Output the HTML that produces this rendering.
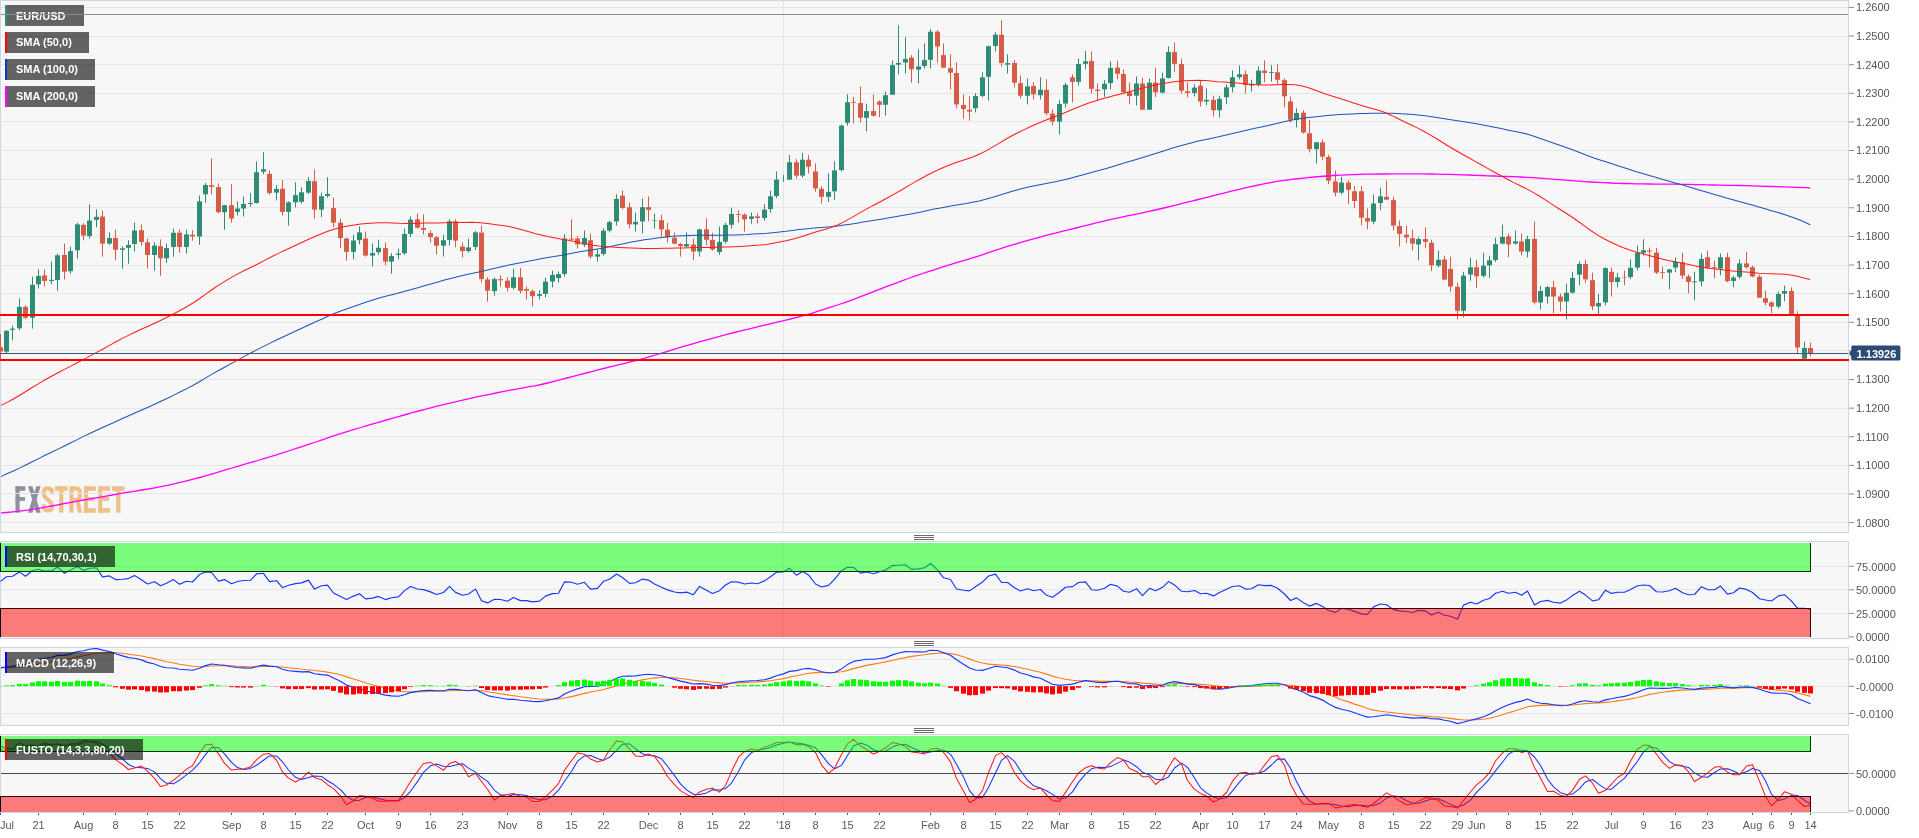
<!DOCTYPE html><html><head><meta charset="utf-8"><title>EUR/USD</title><style>html,body{margin:0;padding:0;background:#fff;overflow:hidden}svg{display:block;will-change:transform}svg text{font-family:"Liberation Sans",sans-serif}</style></head><body><svg width="1919" height="838" viewBox="0 0 1919 838" font-family="Liberation Sans, sans-serif">
<rect width="1919" height="838" fill="#fff"/>
<rect x="0.5" y="0.5" width="1848" height="532" fill="#f7f7f7" stroke="#cdd5e6" stroke-width="1"/>
<rect x="0.5" y="541.5" width="1848" height="97" fill="#f7f7f7" stroke="#cdd5e6" stroke-width="1"/>
<rect x="0.5" y="647.5" width="1848" height="78" fill="#f7f7f7" stroke="#cdd5e6" stroke-width="1"/>
<rect x="0.5" y="734.5" width="1848" height="78" fill="#f7f7f7" stroke="#cdd5e6" stroke-width="1"/>
<rect x="15.50" y="486.30" width="4.10" height="26.40" fill="#8e909c"/>
<rect x="15.50" y="486.30" width="9.80" height="4.50" fill="#8e909c"/>
<rect x="15.50" y="497.00" width="9.40" height="3.90" fill="#8e909c"/>
<polygon points="28,486.3 32.4,486.3 40.7,512.7 36.3,512.7" fill="#8e909c"/><polygon points="36.3,486.3 40.7,486.3 32.4,512.7 28,512.7" fill="#8e909c"/>
<path d="M52,494.6 L52,492.6 Q52,488.4 47.85,488.4 Q43.7,488.4 43.7,492.6 L43.7,493.4 Q43.7,496.4 47.85,499.6 Q52,502.8 52,505.8 L52,506.5 Q52,510.6 47.85,510.6 Q43.7,510.6 43.7,506.5 L43.7,504.3" fill="none" stroke="#eebf88" stroke-width="4.1"/>
<rect x="54.80" y="486.30" width="12.90" height="4.50" fill="#eebf88"/>
<rect x="59.10" y="486.30" width="4.20" height="26.40" fill="#eebf88"/>
<rect x="69.40" y="486.30" width="4.10" height="26.40" fill="#eebf88"/>
<path d="M72,488.45 L76.3,488.45 Q79.8,488.45 79.8,492 L79.8,496.4 Q79.8,499.9 76.3,499.9 L72,499.9" fill="none" stroke="#eebf88" stroke-width="4.1"/>
<polygon points="75.3,500.5 79.5,500.0 82.1,512.7 77.9,512.7" fill="#eebf88"/>
<rect x="83.90" y="486.30" width="4.10" height="26.40" fill="#eebf88"/>
<rect x="83.90" y="486.30" width="11.90" height="4.50" fill="#eebf88"/>
<rect x="83.90" y="497.00" width="10.70" height="3.90" fill="#eebf88"/>
<rect x="83.90" y="508.20" width="11.90" height="4.50" fill="#eebf88"/>
<rect x="98.20" y="486.30" width="4.10" height="26.40" fill="#eebf88"/>
<rect x="98.20" y="486.30" width="11.90" height="4.50" fill="#eebf88"/>
<rect x="98.20" y="497.00" width="10.70" height="3.90" fill="#eebf88"/>
<rect x="98.20" y="508.20" width="11.90" height="4.50" fill="#eebf88"/>
<rect x="112.00" y="486.30" width="12.60" height="4.50" fill="#eebf88"/>
<rect x="116.20" y="486.30" width="4.20" height="26.40" fill="#eebf88"/>
<g shape-rendering="crispEdges">
<rect x="1" y="7" width="1847" height="1" fill="#e5e5e5"/>
<rect x="1" y="36" width="1847" height="1" fill="#e5e5e5"/>
<rect x="1" y="64" width="1847" height="1" fill="#e5e5e5"/>
<rect x="1" y="93" width="1847" height="1" fill="#e5e5e5"/>
<rect x="1" y="121" width="1847" height="1" fill="#e5e5e5"/>
<rect x="1" y="150" width="1847" height="1" fill="#e5e5e5"/>
<rect x="1" y="179" width="1847" height="1" fill="#e5e5e5"/>
<rect x="1" y="207" width="1847" height="1" fill="#e5e5e5"/>
<rect x="1" y="236" width="1847" height="1" fill="#e5e5e5"/>
<rect x="1" y="265" width="1847" height="1" fill="#e5e5e5"/>
<rect x="1" y="293" width="1847" height="1" fill="#e5e5e5"/>
<rect x="1" y="322" width="1847" height="1" fill="#e5e5e5"/>
<rect x="1" y="350" width="1847" height="1" fill="#e5e5e5"/>
<rect x="1" y="379" width="1847" height="1" fill="#e5e5e5"/>
<rect x="1" y="408" width="1847" height="1" fill="#e5e5e5"/>
<rect x="1" y="436" width="1847" height="1" fill="#e5e5e5"/>
<rect x="1" y="465" width="1847" height="1" fill="#e5e5e5"/>
<rect x="1" y="493" width="1847" height="1" fill="#e5e5e5"/>
<rect x="1" y="522" width="1847" height="1" fill="#e5e5e5"/>
</g>
<g shape-rendering="crispEdges">
<rect x="783" y="1" width="1" height="531" fill="#e5e5e5"/>
<rect x="783" y="542" width="1" height="96" fill="#e5e5e5"/>
<rect x="783" y="648" width="1" height="77" fill="#e5e5e5"/>
<rect x="783" y="735" width="1" height="77" fill="#e5e5e5"/>
</g>
<rect x="1849" y="6.95" width="5" height="1" fill="#8c8c8c"/>
<text x="1856" y="11" font-size="11" fill="#555">1.2600</text>
<rect x="1849" y="35.57" width="5" height="1" fill="#8c8c8c"/>
<text x="1856" y="40" font-size="11" fill="#555">1.2500</text>
<rect x="1849" y="64.19" width="5" height="1" fill="#8c8c8c"/>
<text x="1856" y="69" font-size="11" fill="#555">1.2400</text>
<rect x="1849" y="92.81" width="5" height="1" fill="#8c8c8c"/>
<text x="1856" y="97" font-size="11" fill="#555">1.2300</text>
<rect x="1849" y="121.43" width="5" height="1" fill="#8c8c8c"/>
<text x="1856" y="126" font-size="11" fill="#555">1.2200</text>
<rect x="1849" y="150.05" width="5" height="1" fill="#8c8c8c"/>
<text x="1856" y="154" font-size="11" fill="#555">1.2100</text>
<rect x="1849" y="178.67" width="5" height="1" fill="#8c8c8c"/>
<text x="1856" y="183" font-size="11" fill="#555">1.2000</text>
<rect x="1849" y="207.29" width="5" height="1" fill="#8c8c8c"/>
<text x="1856" y="212" font-size="11" fill="#555">1.1900</text>
<rect x="1849" y="235.91" width="5" height="1" fill="#8c8c8c"/>
<text x="1856" y="240" font-size="11" fill="#555">1.1800</text>
<rect x="1849" y="264.53" width="5" height="1" fill="#8c8c8c"/>
<text x="1856" y="269" font-size="11" fill="#555">1.1700</text>
<rect x="1849" y="293.15" width="5" height="1" fill="#8c8c8c"/>
<text x="1856" y="298" font-size="11" fill="#555">1.1600</text>
<rect x="1849" y="321.77" width="5" height="1" fill="#8c8c8c"/>
<text x="1856" y="326" font-size="11" fill="#555">1.1500</text>
<rect x="1849" y="350.39" width="5" height="1" fill="#8c8c8c"/>
<text x="1856" y="355" font-size="11" fill="#555">1.1400</text>
<rect x="1849" y="379.01" width="5" height="1" fill="#8c8c8c"/>
<text x="1856" y="383" font-size="11" fill="#555">1.1300</text>
<rect x="1849" y="407.63" width="5" height="1" fill="#8c8c8c"/>
<text x="1856" y="412" font-size="11" fill="#555">1.1200</text>
<rect x="1849" y="436.25" width="5" height="1" fill="#8c8c8c"/>
<text x="1856" y="441" font-size="11" fill="#555">1.1100</text>
<rect x="1849" y="464.87" width="5" height="1" fill="#8c8c8c"/>
<text x="1856" y="469" font-size="11" fill="#555">1.1000</text>
<rect x="1849" y="493.49" width="5" height="1" fill="#8c8c8c"/>
<text x="1856" y="498" font-size="11" fill="#555">1.0900</text>
<rect x="1849" y="522.11" width="5" height="1" fill="#8c8c8c"/>
<text x="1856" y="527" font-size="11" fill="#555">1.0800</text>
<rect x="0" y="333.94" width="1" height="26.57" fill="#d65c47"/>
<rect x="-2" y="347.15" width="5" height="4.34" fill="#d65c47"/>
<rect x="6" y="330.27" width="1" height="23.06" fill="#2e8b74"/>
<rect x="4" y="330.77" width="5" height="20.89" fill="#2e8b74"/>
<rect x="12" y="325.59" width="1" height="14.71" fill="#2e8b74"/>
<rect x="10" y="328.60" width="5" height="1.17" fill="#2e8b74"/>
<rect x="19" y="298.52" width="1" height="31.75" fill="#2e8b74"/>
<rect x="17" y="306.87" width="5" height="21.39" fill="#2e8b74"/>
<rect x="25" y="305.20" width="1" height="14.20" fill="#d65c47"/>
<rect x="23" y="306.87" width="5" height="10.86" fill="#d65c47"/>
<rect x="32" y="276.79" width="1" height="51.80" fill="#2e8b74"/>
<rect x="30" y="284.81" width="5" height="32.92" fill="#2e8b74"/>
<rect x="38" y="269.27" width="1" height="19.22" fill="#2e8b74"/>
<rect x="36" y="275.96" width="5" height="8.36" fill="#2e8b74"/>
<rect x="44" y="269.61" width="1" height="16.88" fill="#d65c47"/>
<rect x="42" y="275.45" width="5" height="5.51" fill="#d65c47"/>
<rect x="51" y="261.42" width="1" height="22.89" fill="#2e8b74"/>
<rect x="49" y="279.80" width="5" height="1.17" fill="#2e8b74"/>
<rect x="57" y="253.64" width="1" height="37.10" fill="#2e8b74"/>
<rect x="55" y="255.31" width="5" height="24.73" fill="#2e8b74"/>
<rect x="64" y="243.61" width="1" height="35.93" fill="#d65c47"/>
<rect x="62" y="254.97" width="5" height="16.71" fill="#d65c47"/>
<rect x="70" y="246.62" width="1" height="27.07" fill="#2e8b74"/>
<rect x="68" y="251.13" width="5" height="20.05" fill="#2e8b74"/>
<rect x="77" y="222.72" width="1" height="35.93" fill="#2e8b74"/>
<rect x="75" y="224.39" width="5" height="25.90" fill="#2e8b74"/>
<rect x="83" y="223.22" width="1" height="17.05" fill="#d65c47"/>
<rect x="81" y="224.89" width="5" height="10.70" fill="#d65c47"/>
<rect x="89" y="204.34" width="1" height="34.26" fill="#2e8b74"/>
<rect x="87" y="220.55" width="5" height="15.54" fill="#2e8b74"/>
<rect x="96" y="209.35" width="1" height="17.88" fill="#2e8b74"/>
<rect x="94" y="216.87" width="5" height="3.01" fill="#2e8b74"/>
<rect x="102" y="210.52" width="1" height="46.12" fill="#d65c47"/>
<rect x="100" y="216.54" width="5" height="27.07" fill="#d65c47"/>
<rect x="109" y="232.41" width="1" height="12.53" fill="#2e8b74"/>
<rect x="107" y="238.09" width="5" height="5.51" fill="#2e8b74"/>
<rect x="115" y="229.74" width="1" height="30.58" fill="#d65c47"/>
<rect x="113" y="238.09" width="5" height="11.70" fill="#d65c47"/>
<rect x="122" y="246.45" width="1" height="22.23" fill="#2e8b74"/>
<rect x="120" y="248.29" width="5" height="1.50" fill="#2e8b74"/>
<rect x="128" y="240.27" width="1" height="23.40" fill="#2e8b74"/>
<rect x="126" y="244.95" width="5" height="2.84" fill="#2e8b74"/>
<rect x="134" y="222.39" width="1" height="29.08" fill="#2e8b74"/>
<rect x="132" y="230.57" width="5" height="13.37" fill="#2e8b74"/>
<rect x="141" y="224.39" width="1" height="21.22" fill="#d65c47"/>
<rect x="139" y="230.24" width="5" height="11.70" fill="#d65c47"/>
<rect x="147" y="238.60" width="1" height="30.08" fill="#d65c47"/>
<rect x="145" y="242.27" width="5" height="12.70" fill="#d65c47"/>
<rect x="154" y="242.27" width="1" height="28.41" fill="#2e8b74"/>
<rect x="152" y="245.61" width="5" height="9.36" fill="#2e8b74"/>
<rect x="160" y="239.43" width="1" height="36.26" fill="#d65c47"/>
<rect x="158" y="246.12" width="5" height="12.20" fill="#d65c47"/>
<rect x="166" y="243.61" width="1" height="19.22" fill="#2e8b74"/>
<rect x="164" y="248.12" width="5" height="10.19" fill="#2e8b74"/>
<rect x="173" y="228.57" width="1" height="28.07" fill="#2e8b74"/>
<rect x="171" y="232.75" width="5" height="14.20" fill="#2e8b74"/>
<rect x="179" y="229.41" width="1" height="23.40" fill="#d65c47"/>
<rect x="177" y="232.75" width="5" height="14.20" fill="#d65c47"/>
<rect x="186" y="229.74" width="1" height="23.90" fill="#2e8b74"/>
<rect x="184" y="234.42" width="5" height="12.53" fill="#2e8b74"/>
<rect x="192" y="230.24" width="1" height="10.36" fill="#d65c47"/>
<rect x="190" y="234.75" width="5" height="1.67" fill="#d65c47"/>
<rect x="199" y="195.48" width="1" height="49.30" fill="#2e8b74"/>
<rect x="197" y="201.33" width="5" height="35.26" fill="#2e8b74"/>
<rect x="205" y="183.11" width="1" height="19.55" fill="#2e8b74"/>
<rect x="203" y="185.12" width="5" height="9.19" fill="#2e8b74"/>
<rect x="211" y="158.38" width="1" height="35.93" fill="#d65c47"/>
<rect x="209" y="185.12" width="5" height="1.67" fill="#d65c47"/>
<rect x="218" y="183.45" width="1" height="30.08" fill="#d65c47"/>
<rect x="216" y="187.13" width="5" height="25.07" fill="#d65c47"/>
<rect x="224" y="205.17" width="1" height="24.57" fill="#2e8b74"/>
<rect x="222" y="205.17" width="5" height="7.02" fill="#2e8b74"/>
<rect x="231" y="184.28" width="1" height="38.44" fill="#d65c47"/>
<rect x="229" y="205.17" width="5" height="13.37" fill="#d65c47"/>
<rect x="237" y="201.33" width="1" height="14.20" fill="#2e8b74"/>
<rect x="235" y="208.52" width="5" height="3.34" fill="#2e8b74"/>
<rect x="243" y="196.48" width="1" height="20.05" fill="#2e8b74"/>
<rect x="241" y="204.00" width="5" height="4.51" fill="#2e8b74"/>
<rect x="250" y="193.14" width="1" height="13.70" fill="#2e8b74"/>
<rect x="248" y="203.00" width="5" height="1.00" fill="#2e8b74"/>
<rect x="256" y="161.39" width="1" height="42.11" fill="#2e8b74"/>
<rect x="254" y="172.25" width="5" height="30.75" fill="#2e8b74"/>
<rect x="263" y="152.20" width="1" height="22.06" fill="#2e8b74"/>
<rect x="261" y="169.24" width="5" height="2.51" fill="#2e8b74"/>
<rect x="269" y="170.41" width="1" height="24.23" fill="#d65c47"/>
<rect x="267" y="173.92" width="5" height="19.05" fill="#d65c47"/>
<rect x="276" y="185.12" width="1" height="15.37" fill="#2e8b74"/>
<rect x="274" y="188.96" width="5" height="3.68" fill="#2e8b74"/>
<rect x="282" y="180.11" width="1" height="35.43" fill="#d65c47"/>
<rect x="280" y="188.80" width="5" height="23.06" fill="#d65c47"/>
<rect x="288" y="201.33" width="1" height="24.23" fill="#2e8b74"/>
<rect x="286" y="202.33" width="5" height="9.53" fill="#2e8b74"/>
<rect x="295" y="182.28" width="1" height="25.07" fill="#2e8b74"/>
<rect x="293" y="195.15" width="5" height="7.19" fill="#2e8b74"/>
<rect x="301" y="187.29" width="1" height="16.21" fill="#2e8b74"/>
<rect x="299" y="192.31" width="5" height="9.53" fill="#2e8b74"/>
<rect x="308" y="177.10" width="1" height="16.71" fill="#2e8b74"/>
<rect x="306" y="180.94" width="5" height="11.70" fill="#2e8b74"/>
<rect x="314" y="169.68" width="1" height="48.80" fill="#d65c47"/>
<rect x="312" y="181.21" width="5" height="28.41" fill="#d65c47"/>
<rect x="321" y="192.57" width="1" height="24.57" fill="#2e8b74"/>
<rect x="319" y="196.25" width="5" height="13.37" fill="#2e8b74"/>
<rect x="327" y="177.20" width="1" height="20.39" fill="#2e8b74"/>
<rect x="325" y="193.91" width="5" height="2.01" fill="#2e8b74"/>
<rect x="333" y="197.59" width="1" height="29.58" fill="#d65c47"/>
<rect x="331" y="208.11" width="5" height="14.54" fill="#d65c47"/>
<rect x="340" y="218.48" width="1" height="29.75" fill="#d65c47"/>
<rect x="338" y="222.65" width="5" height="15.37" fill="#d65c47"/>
<rect x="346" y="237.69" width="1" height="22.89" fill="#d65c47"/>
<rect x="344" y="238.53" width="5" height="13.37" fill="#d65c47"/>
<rect x="353" y="234.85" width="1" height="24.57" fill="#2e8b74"/>
<rect x="351" y="240.53" width="5" height="11.36" fill="#2e8b74"/>
<rect x="359" y="226.50" width="1" height="17.88" fill="#2e8b74"/>
<rect x="357" y="232.35" width="5" height="7.85" fill="#2e8b74"/>
<rect x="365" y="231.51" width="1" height="25.07" fill="#d65c47"/>
<rect x="363" y="238.53" width="5" height="17.05" fill="#d65c47"/>
<rect x="372" y="243.54" width="1" height="22.89" fill="#2e8b74"/>
<rect x="370" y="253.07" width="5" height="2.51" fill="#2e8b74"/>
<rect x="378" y="239.70" width="1" height="15.04" fill="#2e8b74"/>
<rect x="376" y="247.72" width="5" height="4.51" fill="#2e8b74"/>
<rect x="385" y="242.37" width="1" height="22.89" fill="#d65c47"/>
<rect x="383" y="248.05" width="5" height="13.54" fill="#d65c47"/>
<rect x="391" y="253.24" width="1" height="20.39" fill="#2e8b74"/>
<rect x="389" y="256.08" width="5" height="5.51" fill="#2e8b74"/>
<rect x="398" y="248.56" width="1" height="10.86" fill="#2e8b74"/>
<rect x="396" y="253.57" width="5" height="1.34" fill="#2e8b74"/>
<rect x="404" y="228.50" width="1" height="26.24" fill="#2e8b74"/>
<rect x="402" y="234.02" width="5" height="19.22" fill="#2e8b74"/>
<rect x="410" y="216.30" width="1" height="20.89" fill="#2e8b74"/>
<rect x="408" y="219.65" width="5" height="14.20" fill="#2e8b74"/>
<rect x="417" y="213.46" width="1" height="15.04" fill="#d65c47"/>
<rect x="415" y="219.31" width="5" height="8.36" fill="#d65c47"/>
<rect x="423" y="214.30" width="1" height="20.05" fill="#d65c47"/>
<rect x="421" y="228.00" width="5" height="1.84" fill="#d65c47"/>
<rect x="430" y="230.17" width="1" height="12.53" fill="#d65c47"/>
<rect x="428" y="233.01" width="5" height="4.18" fill="#d65c47"/>
<rect x="436" y="236.02" width="1" height="18.38" fill="#d65c47"/>
<rect x="434" y="237.19" width="5" height="8.52" fill="#d65c47"/>
<rect x="443" y="234.69" width="1" height="21.89" fill="#2e8b74"/>
<rect x="441" y="240.20" width="5" height="5.51" fill="#2e8b74"/>
<rect x="449" y="219.31" width="1" height="26.24" fill="#2e8b74"/>
<rect x="447" y="221.32" width="5" height="18.55" fill="#2e8b74"/>
<rect x="455" y="219.31" width="1" height="28.07" fill="#d65c47"/>
<rect x="453" y="221.32" width="5" height="19.22" fill="#d65c47"/>
<rect x="462" y="242.37" width="1" height="15.04" fill="#d65c47"/>
<rect x="460" y="246.55" width="5" height="4.51" fill="#d65c47"/>
<rect x="468" y="238.53" width="1" height="14.20" fill="#2e8b74"/>
<rect x="466" y="247.39" width="5" height="3.68" fill="#2e8b74"/>
<rect x="475" y="231.01" width="1" height="19.22" fill="#2e8b74"/>
<rect x="473" y="232.35" width="5" height="14.54" fill="#2e8b74"/>
<rect x="481" y="225.66" width="1" height="56.82" fill="#d65c47"/>
<rect x="479" y="232.68" width="5" height="46.29" fill="#d65c47"/>
<rect x="487" y="277.30" width="1" height="24.40" fill="#d65c47"/>
<rect x="485" y="279.47" width="5" height="11.20" fill="#d65c47"/>
<rect x="494" y="277.47" width="1" height="18.22" fill="#2e8b74"/>
<rect x="492" y="279.14" width="5" height="12.03" fill="#2e8b74"/>
<rect x="500" y="275.29" width="1" height="11.20" fill="#d65c47"/>
<rect x="498" y="279.14" width="5" height="1.17" fill="#d65c47"/>
<rect x="507" y="277.30" width="1" height="14.20" fill="#d65c47"/>
<rect x="505" y="280.64" width="5" height="7.19" fill="#d65c47"/>
<rect x="513" y="268.61" width="1" height="20.89" fill="#2e8b74"/>
<rect x="511" y="277.30" width="5" height="10.53" fill="#2e8b74"/>
<rect x="520" y="267.77" width="1" height="25.57" fill="#d65c47"/>
<rect x="518" y="277.30" width="5" height="13.54" fill="#d65c47"/>
<rect x="526" y="286.49" width="1" height="13.03" fill="#d65c47"/>
<rect x="524" y="289.00" width="5" height="1.67" fill="#d65c47"/>
<rect x="532" y="289.50" width="1" height="16.71" fill="#d65c47"/>
<rect x="530" y="291.17" width="5" height="5.01" fill="#d65c47"/>
<rect x="539" y="290.33" width="1" height="9.19" fill="#2e8b74"/>
<rect x="537" y="294.18" width="5" height="1.67" fill="#2e8b74"/>
<rect x="545" y="277.80" width="1" height="19.72" fill="#2e8b74"/>
<rect x="543" y="281.64" width="5" height="12.37" fill="#2e8b74"/>
<rect x="552" y="270.61" width="1" height="16.88" fill="#2e8b74"/>
<rect x="550" y="274.96" width="5" height="6.52" fill="#2e8b74"/>
<rect x="558" y="271.45" width="1" height="11.03" fill="#2e8b74"/>
<rect x="556" y="274.12" width="5" height="4.01" fill="#2e8b74"/>
<rect x="564" y="234.35" width="1" height="42.28" fill="#2e8b74"/>
<rect x="562" y="238.53" width="5" height="35.43" fill="#2e8b74"/>
<rect x="571" y="219.31" width="1" height="20.89" fill="#d65c47"/>
<rect x="569" y="238.53" width="5" height="1.00" fill="#d65c47"/>
<rect x="577" y="236.02" width="1" height="12.53" fill="#d65c47"/>
<rect x="575" y="238.53" width="5" height="5.85" fill="#d65c47"/>
<rect x="584" y="230.51" width="1" height="16.38" fill="#2e8b74"/>
<rect x="582" y="238.03" width="5" height="6.68" fill="#2e8b74"/>
<rect x="590" y="233.52" width="1" height="25.07" fill="#d65c47"/>
<rect x="588" y="240.20" width="5" height="16.38" fill="#d65c47"/>
<rect x="597" y="249.39" width="1" height="12.20" fill="#2e8b74"/>
<rect x="595" y="254.41" width="5" height="2.17" fill="#2e8b74"/>
<rect x="603" y="228.17" width="1" height="27.57" fill="#2e8b74"/>
<rect x="601" y="230.68" width="5" height="23.23" fill="#2e8b74"/>
<rect x="609" y="220.65" width="1" height="11.70" fill="#2e8b74"/>
<rect x="607" y="222.15" width="5" height="8.36" fill="#2e8b74"/>
<rect x="616" y="194.24" width="1" height="31.25" fill="#2e8b74"/>
<rect x="614" y="198.92" width="5" height="22.56" fill="#2e8b74"/>
<rect x="622" y="190.40" width="1" height="18.88" fill="#d65c47"/>
<rect x="620" y="195.58" width="5" height="12.37" fill="#d65c47"/>
<rect x="629" y="202.60" width="1" height="25.90" fill="#d65c47"/>
<rect x="627" y="207.28" width="5" height="17.05" fill="#d65c47"/>
<rect x="635" y="212.71" width="1" height="18.88" fill="#2e8b74"/>
<rect x="633" y="221.90" width="5" height="2.51" fill="#2e8b74"/>
<rect x="642" y="198.50" width="1" height="35.09" fill="#2e8b74"/>
<rect x="640" y="207.19" width="5" height="14.20" fill="#2e8b74"/>
<rect x="648" y="196.50" width="1" height="24.90" fill="#d65c47"/>
<rect x="646" y="207.19" width="5" height="2.67" fill="#d65c47"/>
<rect x="654" y="213.54" width="1" height="15.04" fill="#2e8b74"/>
<rect x="652" y="220.23" width="5" height="0.50" fill="#2e8b74"/>
<rect x="661" y="214.71" width="1" height="21.72" fill="#d65c47"/>
<rect x="659" y="220.23" width="5" height="9.19" fill="#d65c47"/>
<rect x="667" y="222.73" width="1" height="19.72" fill="#d65c47"/>
<rect x="665" y="229.75" width="5" height="7.52" fill="#d65c47"/>
<rect x="674" y="232.43" width="1" height="12.03" fill="#d65c47"/>
<rect x="672" y="237.77" width="5" height="5.85" fill="#d65c47"/>
<rect x="680" y="243.29" width="1" height="13.37" fill="#d65c47"/>
<rect x="678" y="243.96" width="5" height="2.17" fill="#d65c47"/>
<rect x="686" y="232.43" width="1" height="14.87" fill="#2e8b74"/>
<rect x="684" y="244.12" width="5" height="2.34" fill="#2e8b74"/>
<rect x="693" y="238.61" width="1" height="21.72" fill="#d65c47"/>
<rect x="691" y="244.46" width="5" height="7.02" fill="#d65c47"/>
<rect x="699" y="228.58" width="1" height="27.91" fill="#2e8b74"/>
<rect x="697" y="229.42" width="5" height="22.06" fill="#2e8b74"/>
<rect x="706" y="218.22" width="1" height="27.07" fill="#d65c47"/>
<rect x="704" y="229.42" width="5" height="10.36" fill="#d65c47"/>
<rect x="712" y="232.76" width="1" height="17.88" fill="#d65c47"/>
<rect x="710" y="239.95" width="5" height="9.53" fill="#d65c47"/>
<rect x="719" y="226.58" width="1" height="28.24" fill="#2e8b74"/>
<rect x="717" y="241.95" width="5" height="10.03" fill="#2e8b74"/>
<rect x="725" y="222.73" width="1" height="20.89" fill="#2e8b74"/>
<rect x="723" y="224.91" width="5" height="16.71" fill="#2e8b74"/>
<rect x="731" y="207.69" width="1" height="20.89" fill="#2e8b74"/>
<rect x="729" y="214.04" width="5" height="10.70" fill="#2e8b74"/>
<rect x="738" y="210.53" width="1" height="12.20" fill="#d65c47"/>
<rect x="736" y="214.04" width="5" height="0.84" fill="#d65c47"/>
<rect x="744" y="213.21" width="1" height="18.38" fill="#d65c47"/>
<rect x="742" y="214.71" width="5" height="4.68" fill="#d65c47"/>
<rect x="751" y="212.37" width="1" height="11.20" fill="#2e8b74"/>
<rect x="749" y="216.38" width="5" height="2.51" fill="#2e8b74"/>
<rect x="757" y="213.21" width="1" height="10.36" fill="#d65c47"/>
<rect x="755" y="216.38" width="5" height="1.67" fill="#d65c47"/>
<rect x="764" y="204.35" width="1" height="16.38" fill="#2e8b74"/>
<rect x="762" y="209.70" width="5" height="8.36" fill="#2e8b74"/>
<rect x="770" y="190.65" width="1" height="22.06" fill="#2e8b74"/>
<rect x="768" y="196.33" width="5" height="12.70" fill="#2e8b74"/>
<rect x="776" y="171.43" width="1" height="26.57" fill="#2e8b74"/>
<rect x="774" y="179.62" width="5" height="16.38" fill="#2e8b74"/>
<rect x="783" y="174.94" width="1" height="6.85" fill="#2e8b74"/>
<rect x="789" y="155.05" width="1" height="24.73" fill="#2e8b74"/>
<rect x="787" y="162.24" width="5" height="17.38" fill="#2e8b74"/>
<rect x="796" y="159.23" width="1" height="19.22" fill="#d65c47"/>
<rect x="794" y="162.24" width="5" height="13.37" fill="#d65c47"/>
<rect x="802" y="153.05" width="1" height="24.57" fill="#2e8b74"/>
<rect x="800" y="159.73" width="5" height="15.88" fill="#2e8b74"/>
<rect x="808" y="155.05" width="1" height="18.38" fill="#d65c47"/>
<rect x="806" y="159.73" width="5" height="7.02" fill="#d65c47"/>
<rect x="815" y="163.41" width="1" height="28.41" fill="#d65c47"/>
<rect x="813" y="171.43" width="5" height="17.05" fill="#d65c47"/>
<rect x="821" y="186.30" width="1" height="17.21" fill="#d65c47"/>
<rect x="819" y="188.81" width="5" height="8.02" fill="#d65c47"/>
<rect x="828" y="173.44" width="1" height="28.41" fill="#2e8b74"/>
<rect x="826" y="191.82" width="5" height="5.01" fill="#2e8b74"/>
<rect x="834" y="161.40" width="1" height="38.27" fill="#2e8b74"/>
<rect x="832" y="170.43" width="5" height="20.89" fill="#2e8b74"/>
<rect x="841" y="124.46" width="1" height="46.96" fill="#2e8b74"/>
<rect x="839" y="125.63" width="5" height="44.45" fill="#2e8b74"/>
<rect x="847" y="94.38" width="1" height="31.25" fill="#2e8b74"/>
<rect x="845" y="102.23" width="5" height="20.55" fill="#2e8b74"/>
<rect x="853" y="96.89" width="1" height="26.74" fill="#d65c47"/>
<rect x="851" y="101.90" width="5" height="0.84" fill="#d65c47"/>
<rect x="860" y="86.52" width="1" height="35.93" fill="#d65c47"/>
<rect x="858" y="103.07" width="5" height="14.71" fill="#d65c47"/>
<rect x="866" y="103.57" width="1" height="27.91" fill="#2e8b74"/>
<rect x="864" y="111.09" width="5" height="6.68" fill="#2e8b74"/>
<rect x="873" y="94.38" width="1" height="22.23" fill="#d65c47"/>
<rect x="871" y="111.09" width="5" height="4.68" fill="#d65c47"/>
<rect x="879" y="100.23" width="1" height="17.05" fill="#d65c47"/>
<rect x="877" y="101.56" width="5" height="3.18" fill="#d65c47"/>
<rect x="885" y="91.54" width="1" height="24.06" fill="#2e8b74"/>
<rect x="883" y="95.21" width="5" height="9.53" fill="#2e8b74"/>
<rect x="892" y="60.45" width="1" height="34.43" fill="#2e8b74"/>
<rect x="890" y="65.13" width="5" height="29.58" fill="#2e8b74"/>
<rect x="898" y="25.36" width="1" height="48.96" fill="#2e8b74"/>
<rect x="896" y="62.96" width="5" height="1.67" fill="#2e8b74"/>
<rect x="905" y="37.23" width="1" height="36.26" fill="#2e8b74"/>
<rect x="903" y="58.95" width="5" height="3.68" fill="#2e8b74"/>
<rect x="911" y="55.11" width="1" height="27.57" fill="#d65c47"/>
<rect x="909" y="57.61" width="5" height="11.70" fill="#d65c47"/>
<rect x="918" y="49.26" width="1" height="34.26" fill="#2e8b74"/>
<rect x="916" y="66.47" width="5" height="3.18" fill="#2e8b74"/>
<rect x="924" y="43.41" width="1" height="25.07" fill="#2e8b74"/>
<rect x="922" y="60.12" width="5" height="5.85" fill="#2e8b74"/>
<rect x="930" y="29.20" width="1" height="39.27" fill="#2e8b74"/>
<rect x="928" y="31.71" width="5" height="28.07" fill="#2e8b74"/>
<rect x="937" y="30.04" width="1" height="32.59" fill="#d65c47"/>
<rect x="935" y="31.71" width="5" height="14.71" fill="#d65c47"/>
<rect x="943" y="43.41" width="1" height="24.73" fill="#d65c47"/>
<rect x="941" y="55.11" width="5" height="12.53" fill="#d65c47"/>
<rect x="950" y="54.27" width="1" height="35.09" fill="#d65c47"/>
<rect x="948" y="68.14" width="5" height="4.51" fill="#d65c47"/>
<rect x="956" y="62.29" width="1" height="45.96" fill="#d65c47"/>
<rect x="954" y="72.99" width="5" height="31.42" fill="#d65c47"/>
<rect x="963" y="94.38" width="1" height="24.23" fill="#d65c47"/>
<rect x="961" y="104.91" width="5" height="4.18" fill="#d65c47"/>
<rect x="969" y="96.38" width="1" height="24.23" fill="#d65c47"/>
<rect x="967" y="109.75" width="5" height="1.84" fill="#d65c47"/>
<rect x="975" y="93.21" width="1" height="19.22" fill="#2e8b74"/>
<rect x="973" y="96.05" width="5" height="12.20" fill="#2e8b74"/>
<rect x="982" y="72.32" width="1" height="25.07" fill="#2e8b74"/>
<rect x="980" y="77.33" width="5" height="18.72" fill="#2e8b74"/>
<rect x="988" y="45.58" width="1" height="54.98" fill="#2e8b74"/>
<rect x="986" y="46.25" width="5" height="30.58" fill="#2e8b74"/>
<rect x="995" y="32.21" width="1" height="19.22" fill="#2e8b74"/>
<rect x="993" y="34.72" width="5" height="11.20" fill="#2e8b74"/>
<rect x="1001" y="20.35" width="1" height="46.12" fill="#d65c47"/>
<rect x="999" y="34.72" width="5" height="28.24" fill="#d65c47"/>
<rect x="1007" y="54.27" width="1" height="19.22" fill="#2e8b74"/>
<rect x="1005" y="63.13" width="5" height="1.50" fill="#2e8b74"/>
<rect x="1014" y="60.12" width="1" height="27.24" fill="#d65c47"/>
<rect x="1012" y="62.96" width="5" height="19.72" fill="#d65c47"/>
<rect x="1020" y="75.49" width="1" height="23.06" fill="#d65c47"/>
<rect x="1018" y="83.18" width="5" height="12.53" fill="#d65c47"/>
<rect x="1027" y="78.50" width="1" height="25.90" fill="#2e8b74"/>
<rect x="1025" y="86.36" width="5" height="9.36" fill="#2e8b74"/>
<rect x="1033" y="82.18" width="1" height="17.21" fill="#d65c47"/>
<rect x="1031" y="86.02" width="5" height="8.36" fill="#d65c47"/>
<rect x="1040" y="77.33" width="1" height="22.06" fill="#2e8b74"/>
<rect x="1038" y="89.70" width="5" height="5.51" fill="#2e8b74"/>
<rect x="1046" y="79.34" width="1" height="35.93" fill="#d65c47"/>
<rect x="1044" y="89.87" width="5" height="23.40" fill="#d65c47"/>
<rect x="1052" y="109.42" width="1" height="16.21" fill="#d65c47"/>
<rect x="1050" y="113.60" width="5" height="8.02" fill="#d65c47"/>
<rect x="1059" y="100.23" width="1" height="34.26" fill="#2e8b74"/>
<rect x="1057" y="104.07" width="5" height="17.55" fill="#2e8b74"/>
<rect x="1065" y="82.68" width="1" height="24.73" fill="#2e8b74"/>
<rect x="1063" y="84.85" width="5" height="18.72" fill="#2e8b74"/>
<rect x="1072" y="74.32" width="1" height="27.91" fill="#d65c47"/>
<rect x="1070" y="77.33" width="5" height="4.51" fill="#d65c47"/>
<rect x="1078" y="58.45" width="1" height="27.07" fill="#2e8b74"/>
<rect x="1076" y="63.96" width="5" height="17.88" fill="#2e8b74"/>
<rect x="1085" y="50.93" width="1" height="18.38" fill="#2e8b74"/>
<rect x="1083" y="61.29" width="5" height="2.51" fill="#2e8b74"/>
<rect x="1091" y="51.39" width="1" height="42.11" fill="#d65c47"/>
<rect x="1089" y="60.92" width="5" height="27.91" fill="#d65c47"/>
<rect x="1097" y="83.48" width="1" height="16.71" fill="#d65c47"/>
<rect x="1095" y="89.66" width="5" height="1.34" fill="#d65c47"/>
<rect x="1104" y="80.13" width="1" height="16.71" fill="#2e8b74"/>
<rect x="1102" y="83.81" width="5" height="5.51" fill="#2e8b74"/>
<rect x="1110" y="61.42" width="1" height="27.91" fill="#2e8b74"/>
<rect x="1108" y="67.93" width="5" height="15.21" fill="#2e8b74"/>
<rect x="1117" y="60.58" width="1" height="18.72" fill="#d65c47"/>
<rect x="1115" y="67.60" width="5" height="6.18" fill="#d65c47"/>
<rect x="1123" y="69.61" width="1" height="23.90" fill="#d65c47"/>
<rect x="1121" y="73.95" width="5" height="18.22" fill="#d65c47"/>
<rect x="1129" y="82.64" width="1" height="21.72" fill="#d65c47"/>
<rect x="1127" y="92.17" width="5" height="3.84" fill="#d65c47"/>
<rect x="1136" y="76.46" width="1" height="29.08" fill="#2e8b74"/>
<rect x="1134" y="83.48" width="5" height="12.20" fill="#2e8b74"/>
<rect x="1142" y="77.63" width="1" height="32.09" fill="#d65c47"/>
<rect x="1140" y="83.48" width="5" height="26.24" fill="#d65c47"/>
<rect x="1149" y="78.46" width="1" height="31.25" fill="#2e8b74"/>
<rect x="1147" y="82.64" width="5" height="27.07" fill="#2e8b74"/>
<rect x="1155" y="67.60" width="1" height="29.58" fill="#d65c47"/>
<rect x="1153" y="82.64" width="5" height="9.69" fill="#d65c47"/>
<rect x="1162" y="72.61" width="1" height="20.89" fill="#2e8b74"/>
<rect x="1160" y="78.46" width="5" height="14.20" fill="#2e8b74"/>
<rect x="1168" y="46.21" width="1" height="32.25" fill="#2e8b74"/>
<rect x="1166" y="52.06" width="5" height="25.90" fill="#2e8b74"/>
<rect x="1174" y="42.53" width="1" height="29.75" fill="#d65c47"/>
<rect x="1172" y="52.06" width="5" height="11.86" fill="#d65c47"/>
<rect x="1181" y="58.41" width="1" height="35.09" fill="#d65c47"/>
<rect x="1179" y="63.92" width="5" height="26.74" fill="#d65c47"/>
<rect x="1187" y="82.31" width="1" height="15.04" fill="#d65c47"/>
<rect x="1185" y="91.33" width="5" height="1.67" fill="#d65c47"/>
<rect x="1194" y="84.31" width="1" height="12.03" fill="#2e8b74"/>
<rect x="1192" y="87.65" width="5" height="5.35" fill="#2e8b74"/>
<rect x="1200" y="80.64" width="1" height="25.90" fill="#d65c47"/>
<rect x="1198" y="85.65" width="5" height="15.88" fill="#d65c47"/>
<rect x="1206" y="88.49" width="1" height="16.71" fill="#2e8b74"/>
<rect x="1204" y="99.85" width="5" height="1.67" fill="#2e8b74"/>
<rect x="1213" y="95.68" width="1" height="20.89" fill="#d65c47"/>
<rect x="1211" y="99.85" width="5" height="10.36" fill="#d65c47"/>
<rect x="1219" y="95.68" width="1" height="21.72" fill="#2e8b74"/>
<rect x="1217" y="98.85" width="5" height="11.36" fill="#2e8b74"/>
<rect x="1226" y="84.31" width="1" height="20.05" fill="#2e8b74"/>
<rect x="1224" y="87.32" width="5" height="9.86" fill="#2e8b74"/>
<rect x="1232" y="70.44" width="1" height="21.89" fill="#2e8b74"/>
<rect x="1230" y="77.29" width="5" height="9.86" fill="#2e8b74"/>
<rect x="1239" y="65.43" width="1" height="13.87" fill="#2e8b74"/>
<rect x="1237" y="74.28" width="5" height="2.84" fill="#2e8b74"/>
<rect x="1245" y="70.44" width="1" height="23.06" fill="#d65c47"/>
<rect x="1243" y="74.28" width="5" height="10.86" fill="#d65c47"/>
<rect x="1251" y="79.63" width="1" height="11.86" fill="#2e8b74"/>
<rect x="1249" y="83.81" width="5" height="1.67" fill="#2e8b74"/>
<rect x="1258" y="66.26" width="1" height="20.22" fill="#2e8b74"/>
<rect x="1256" y="70.61" width="5" height="14.20" fill="#2e8b74"/>
<rect x="1264" y="60.41" width="1" height="21.89" fill="#d65c47"/>
<rect x="1262" y="70.61" width="5" height="2.34" fill="#d65c47"/>
<rect x="1271" y="65.09" width="1" height="16.38" fill="#2e8b74"/>
<rect x="1269" y="72.11" width="5" height="0.84" fill="#2e8b74"/>
<rect x="1277" y="64.26" width="1" height="19.55" fill="#d65c47"/>
<rect x="1275" y="72.28" width="5" height="7.52" fill="#d65c47"/>
<rect x="1284" y="78.46" width="1" height="28.91" fill="#d65c47"/>
<rect x="1282" y="80.13" width="5" height="16.21" fill="#d65c47"/>
<rect x="1290" y="96.51" width="1" height="25.90" fill="#d65c47"/>
<rect x="1288" y="101.36" width="5" height="18.38" fill="#d65c47"/>
<rect x="1296" y="108.21" width="1" height="19.22" fill="#2e8b74"/>
<rect x="1294" y="113.05" width="5" height="6.68" fill="#2e8b74"/>
<rect x="1303" y="110.21" width="1" height="23.40" fill="#d65c47"/>
<rect x="1301" y="112.72" width="5" height="19.72" fill="#d65c47"/>
<rect x="1309" y="119.74" width="1" height="32.75" fill="#d65c47"/>
<rect x="1307" y="133.28" width="5" height="15.88" fill="#d65c47"/>
<rect x="1316" y="141.97" width="1" height="21.39" fill="#2e8b74"/>
<rect x="1314" y="142.30" width="5" height="6.85" fill="#2e8b74"/>
<rect x="1322" y="139.46" width="1" height="20.89" fill="#d65c47"/>
<rect x="1320" y="142.30" width="5" height="14.37" fill="#d65c47"/>
<rect x="1328" y="154.69" width="1" height="29.58" fill="#d65c47"/>
<rect x="1326" y="157.03" width="5" height="23.56" fill="#d65c47"/>
<rect x="1335" y="170.57" width="1" height="25.74" fill="#d65c47"/>
<rect x="1333" y="181.43" width="5" height="11.20" fill="#d65c47"/>
<rect x="1341" y="176.75" width="1" height="17.55" fill="#2e8b74"/>
<rect x="1339" y="182.60" width="5" height="10.03" fill="#2e8b74"/>
<rect x="1348" y="180.43" width="1" height="23.90" fill="#d65c47"/>
<rect x="1346" y="182.60" width="5" height="7.19" fill="#d65c47"/>
<rect x="1354" y="185.94" width="1" height="22.23" fill="#d65c47"/>
<rect x="1352" y="191.29" width="5" height="9.69" fill="#d65c47"/>
<rect x="1361" y="185.94" width="1" height="39.27" fill="#d65c47"/>
<rect x="1359" y="191.29" width="5" height="26.40" fill="#d65c47"/>
<rect x="1367" y="208.50" width="1" height="20.89" fill="#d65c47"/>
<rect x="1365" y="218.03" width="5" height="3.51" fill="#d65c47"/>
<rect x="1373" y="194.63" width="1" height="29.75" fill="#2e8b74"/>
<rect x="1371" y="203.49" width="5" height="18.05" fill="#2e8b74"/>
<rect x="1380" y="187.61" width="1" height="22.56" fill="#2e8b74"/>
<rect x="1378" y="196.30" width="5" height="6.68" fill="#2e8b74"/>
<rect x="1386" y="180.59" width="1" height="19.55" fill="#d65c47"/>
<rect x="1384" y="196.80" width="5" height="2.84" fill="#d65c47"/>
<rect x="1393" y="196.80" width="1" height="33.42" fill="#d65c47"/>
<rect x="1391" y="200.15" width="5" height="25.40" fill="#d65c47"/>
<rect x="1399" y="220.70" width="1" height="25.74" fill="#d65c47"/>
<rect x="1397" y="226.05" width="5" height="7.85" fill="#d65c47"/>
<rect x="1406" y="225.72" width="1" height="17.38" fill="#d65c47"/>
<rect x="1404" y="234.74" width="5" height="2.67" fill="#d65c47"/>
<rect x="1412" y="229.73" width="1" height="20.55" fill="#d65c47"/>
<rect x="1410" y="238.25" width="5" height="5.35" fill="#d65c47"/>
<rect x="1418" y="237.41" width="1" height="22.89" fill="#2e8b74"/>
<rect x="1416" y="239.08" width="5" height="5.35" fill="#2e8b74"/>
<rect x="1425" y="227.39" width="1" height="20.89" fill="#d65c47"/>
<rect x="1423" y="239.08" width="5" height="2.84" fill="#d65c47"/>
<rect x="1431" y="239.75" width="1" height="31.42" fill="#d65c47"/>
<rect x="1429" y="242.76" width="5" height="22.56" fill="#d65c47"/>
<rect x="1438" y="250.61" width="1" height="16.88" fill="#2e8b74"/>
<rect x="1436" y="259.81" width="5" height="5.85" fill="#2e8b74"/>
<rect x="1444" y="255.63" width="1" height="24.40" fill="#d65c47"/>
<rect x="1442" y="259.47" width="5" height="20.05" fill="#d65c47"/>
<rect x="1450" y="256.78" width="1" height="34.76" fill="#d65c47"/>
<rect x="1448" y="268.81" width="5" height="17.71" fill="#d65c47"/>
<rect x="1457" y="282.68" width="1" height="36.76" fill="#d65c47"/>
<rect x="1455" y="286.86" width="5" height="23.90" fill="#d65c47"/>
<rect x="1463" y="271.82" width="1" height="45.45" fill="#2e8b74"/>
<rect x="1461" y="275.66" width="5" height="35.09" fill="#2e8b74"/>
<rect x="1470" y="257.80" width="1" height="22.89" fill="#2e8b74"/>
<rect x="1468" y="267.33" width="5" height="7.19" fill="#2e8b74"/>
<rect x="1476" y="259.62" width="1" height="28.58" fill="#d65c47"/>
<rect x="1474" y="267.31" width="5" height="9.02" fill="#d65c47"/>
<rect x="1483" y="252.79" width="1" height="24.57" fill="#2e8b74"/>
<rect x="1481" y="265.66" width="5" height="10.19" fill="#2e8b74"/>
<rect x="1489" y="255.63" width="1" height="22.23" fill="#2e8b74"/>
<rect x="1487" y="260.31" width="5" height="5.01" fill="#2e8b74"/>
<rect x="1495" y="237.75" width="1" height="24.23" fill="#2e8b74"/>
<rect x="1493" y="244.10" width="5" height="15.88" fill="#2e8b74"/>
<rect x="1502" y="224.71" width="1" height="19.72" fill="#2e8b74"/>
<rect x="1500" y="236.91" width="5" height="6.68" fill="#2e8b74"/>
<rect x="1508" y="233.57" width="1" height="23.73" fill="#d65c47"/>
<rect x="1506" y="236.41" width="5" height="8.02" fill="#d65c47"/>
<rect x="1515" y="230.56" width="1" height="13.87" fill="#2e8b74"/>
<rect x="1513" y="241.42" width="5" height="2.17" fill="#2e8b74"/>
<rect x="1521" y="233.57" width="1" height="21.72" fill="#d65c47"/>
<rect x="1519" y="241.42" width="5" height="10.19" fill="#d65c47"/>
<rect x="1527" y="235.74" width="1" height="21.56" fill="#2e8b74"/>
<rect x="1525" y="239.08" width="5" height="12.53" fill="#2e8b74"/>
<rect x="1534" y="221.35" width="1" height="83.05" fill="#d65c47"/>
<rect x="1532" y="238.90" width="5" height="63.50" fill="#d65c47"/>
<rect x="1540" y="286.02" width="1" height="23.40" fill="#2e8b74"/>
<rect x="1538" y="291.04" width="5" height="11.36" fill="#2e8b74"/>
<rect x="1547" y="286.02" width="1" height="17.55" fill="#2e8b74"/>
<rect x="1545" y="287.19" width="5" height="9.36" fill="#2e8b74"/>
<rect x="1553" y="280.68" width="1" height="32.42" fill="#d65c47"/>
<rect x="1551" y="287.19" width="5" height="9.36" fill="#d65c47"/>
<rect x="1560" y="293.54" width="1" height="17.88" fill="#d65c47"/>
<rect x="1558" y="296.55" width="5" height="5.01" fill="#d65c47"/>
<rect x="1566" y="283.85" width="1" height="35.59" fill="#2e8b74"/>
<rect x="1564" y="292.71" width="5" height="8.86" fill="#2e8b74"/>
<rect x="1572" y="271.82" width="1" height="21.72" fill="#2e8b74"/>
<rect x="1570" y="278.00" width="5" height="14.71" fill="#2e8b74"/>
<rect x="1579" y="261.46" width="1" height="23.73" fill="#2e8b74"/>
<rect x="1577" y="263.96" width="5" height="10.70" fill="#2e8b74"/>
<rect x="1585" y="259.62" width="1" height="23.06" fill="#d65c47"/>
<rect x="1583" y="263.96" width="5" height="15.37" fill="#d65c47"/>
<rect x="1592" y="272.65" width="1" height="37.60" fill="#d65c47"/>
<rect x="1590" y="280.17" width="5" height="26.24" fill="#d65c47"/>
<rect x="1598" y="293.88" width="1" height="20.05" fill="#2e8b74"/>
<rect x="1596" y="303.07" width="5" height="3.34" fill="#2e8b74"/>
<rect x="1605" y="267.27" width="1" height="38.10" fill="#2e8b74"/>
<rect x="1603" y="268.11" width="5" height="34.26" fill="#2e8b74"/>
<rect x="1611" y="267.61" width="1" height="28.91" fill="#d65c47"/>
<rect x="1609" y="271.78" width="5" height="10.19" fill="#d65c47"/>
<rect x="1617" y="272.79" width="1" height="14.54" fill="#2e8b74"/>
<rect x="1615" y="277.30" width="5" height="4.68" fill="#2e8b74"/>
<rect x="1624" y="270.61" width="1" height="14.71" fill="#d65c47"/>
<rect x="1622" y="277.30" width="5" height="0.50" fill="#d65c47"/>
<rect x="1630" y="259.42" width="1" height="19.55" fill="#2e8b74"/>
<rect x="1628" y="267.77" width="5" height="9.19" fill="#2e8b74"/>
<rect x="1637" y="245.55" width="1" height="24.73" fill="#2e8b74"/>
<rect x="1635" y="252.73" width="5" height="14.87" fill="#2e8b74"/>
<rect x="1643" y="239.36" width="1" height="16.21" fill="#2e8b74"/>
<rect x="1641" y="250.23" width="5" height="2.51" fill="#2e8b74"/>
<rect x="1649" y="247.55" width="1" height="19.72" fill="#d65c47"/>
<rect x="1647" y="250.56" width="5" height="1.00" fill="#d65c47"/>
<rect x="1656" y="247.72" width="1" height="26.24" fill="#d65c47"/>
<rect x="1654" y="252.57" width="5" height="20.05" fill="#d65c47"/>
<rect x="1662" y="266.77" width="1" height="12.20" fill="#d65c47"/>
<rect x="1660" y="272.28" width="5" height="0.84" fill="#d65c47"/>
<rect x="1669" y="268.94" width="1" height="20.39" fill="#2e8b74"/>
<rect x="1667" y="269.44" width="5" height="3.18" fill="#2e8b74"/>
<rect x="1675" y="257.58" width="1" height="14.71" fill="#2e8b74"/>
<rect x="1673" y="261.92" width="5" height="5.68" fill="#2e8b74"/>
<rect x="1682" y="252.73" width="1" height="26.24" fill="#d65c47"/>
<rect x="1680" y="262.26" width="5" height="13.37" fill="#d65c47"/>
<rect x="1688" y="274.46" width="1" height="18.72" fill="#d65c47"/>
<rect x="1686" y="276.46" width="5" height="5.51" fill="#d65c47"/>
<rect x="1694" y="271.78" width="1" height="28.41" fill="#2e8b74"/>
<rect x="1692" y="281.48" width="5" height="0.84" fill="#2e8b74"/>
<rect x="1701" y="253.57" width="1" height="32.59" fill="#2e8b74"/>
<rect x="1699" y="258.92" width="5" height="22.56" fill="#2e8b74"/>
<rect x="1707" y="250.56" width="1" height="18.38" fill="#d65c47"/>
<rect x="1705" y="257.24" width="5" height="10.36" fill="#d65c47"/>
<rect x="1714" y="260.59" width="1" height="17.55" fill="#d65c47"/>
<rect x="1712" y="267.27" width="5" height="0.84" fill="#d65c47"/>
<rect x="1720" y="253.57" width="1" height="21.72" fill="#2e8b74"/>
<rect x="1718" y="257.24" width="5" height="11.36" fill="#2e8b74"/>
<rect x="1727" y="252.73" width="1" height="29.58" fill="#d65c47"/>
<rect x="1725" y="257.24" width="5" height="23.90" fill="#d65c47"/>
<rect x="1733" y="275.63" width="1" height="11.70" fill="#2e8b74"/>
<rect x="1731" y="277.63" width="5" height="3.34" fill="#2e8b74"/>
<rect x="1739" y="259.42" width="1" height="19.55" fill="#2e8b74"/>
<rect x="1737" y="263.43" width="5" height="13.37" fill="#2e8b74"/>
<rect x="1746" y="251.73" width="1" height="17.21" fill="#d65c47"/>
<rect x="1744" y="263.43" width="5" height="3.84" fill="#d65c47"/>
<rect x="1752" y="265.60" width="1" height="11.70" fill="#d65c47"/>
<rect x="1750" y="267.27" width="5" height="9.19" fill="#d65c47"/>
<rect x="1759" y="274.79" width="1" height="22.89" fill="#d65c47"/>
<rect x="1757" y="276.80" width="5" height="20.89" fill="#d65c47"/>
<rect x="1765" y="290.67" width="1" height="14.71" fill="#d65c47"/>
<rect x="1763" y="298.19" width="5" height="4.51" fill="#d65c47"/>
<rect x="1771" y="301.53" width="1" height="11.70" fill="#d65c47"/>
<rect x="1769" y="302.36" width="5" height="4.18" fill="#d65c47"/>
<rect x="1778" y="291.50" width="1" height="17.05" fill="#2e8b74"/>
<rect x="1776" y="294.01" width="5" height="12.53" fill="#2e8b74"/>
<rect x="1784" y="285.65" width="1" height="15.54" fill="#2e8b74"/>
<rect x="1782" y="291.00" width="5" height="2.67" fill="#2e8b74"/>
<rect x="1791" y="287.32" width="1" height="27.07" fill="#d65c47"/>
<rect x="1789" y="291.00" width="5" height="23.06" fill="#d65c47"/>
<rect x="1797" y="311.22" width="1" height="42.95" fill="#d65c47"/>
<rect x="1795" y="314.06" width="5" height="33.42" fill="#d65c47"/>
<rect x="1804" y="341.64" width="1" height="17.55" fill="#2e8b74"/>
<rect x="1802" y="347.99" width="5" height="10.70" fill="#2e8b74"/>
<rect x="1810" y="342.47" width="1" height="13.87" fill="#d65c47"/>
<rect x="1808" y="347.99" width="5" height="5.01" fill="#d65c47"/>
<clipPath id="cm"><rect x="1" y="1" width="1847" height="531"/></clipPath>
<g clip-path="url(#cm)">
<polyline points="0.0,513.0 6.4,512.5 12.9,511.9 19.3,511.2 25.8,510.3 32.2,509.3 38.7,508.3 45.1,507.2 51.5,506.0 58.0,504.8 64.4,503.5 70.9,502.3 77.3,501.1 83.7,500.0 90.2,498.9 96.6,497.8 103.1,496.6 109.5,495.5 116.0,494.4 122.4,493.2 128.8,492.2 135.3,491.1 141.7,490.0 148.2,489.0 154.6,487.8 161.0,486.6 167.5,485.3 173.9,483.9 180.4,482.4 186.8,480.8 193.3,479.2 199.7,477.5 206.1,475.7 212.6,473.8 219.0,471.8 225.5,469.9 231.9,468.0 238.4,466.1 244.8,464.2 251.2,462.4 257.7,460.5 264.1,458.6 270.6,456.7 277.0,454.7 283.4,452.6 289.9,450.5 296.3,448.4 302.8,446.3 309.2,444.1 315.7,442.0 322.1,439.8 328.5,437.6 335.0,435.4 341.4,433.3 347.9,431.3 354.3,429.4 360.8,427.5 367.2,425.6 373.6,423.7 380.1,421.8 386.5,420.0 393.0,418.1 399.4,416.3 405.8,414.5 412.3,412.7 418.7,411.0 425.2,409.3 431.6,407.6 438.1,405.9 444.5,404.3 450.9,402.8 457.4,401.3 463.8,399.8 470.3,398.3 476.7,396.9 483.1,395.6 489.6,394.3 496.0,393.0 502.5,391.7 508.9,390.4 515.4,389.3 521.8,388.1 528.2,386.9 534.7,385.8 541.1,384.5 547.6,383.0 554.0,381.4 560.5,379.7 566.9,378.0 573.3,376.3 579.8,374.7 586.2,373.0 592.7,371.3 599.1,369.6 605.5,368.0 612.0,366.4 618.4,364.8 624.9,363.3 631.3,361.7 637.8,360.0 644.2,358.3 650.6,356.4 657.1,354.5 663.5,352.6 670.0,350.6 676.4,348.6 682.9,346.7 689.3,344.8 695.7,342.9 702.2,341.1 708.6,339.3 715.1,337.6 721.5,335.8 727.9,334.2 734.4,332.5 740.8,330.9 747.3,329.3 753.7,327.8 760.2,326.2 766.6,324.7 773.0,323.2 779.5,321.7 785.9,320.1 792.4,318.5 798.8,316.9 805.2,315.2 811.7,313.3 818.1,311.2 824.6,309.2 831.0,307.1 837.5,305.0 843.9,302.9 850.3,300.6 856.8,298.2 863.2,295.7 869.7,293.2 876.1,290.7 882.6,288.2 889.0,285.7 895.4,283.3 901.9,280.9 908.3,278.5 914.8,276.2 921.2,274.0 927.6,271.8 934.1,269.8 940.5,267.7 947.0,265.6 953.4,263.6 959.9,261.6 966.3,259.8 972.7,257.9 979.2,255.8 985.6,253.6 992.1,251.4 998.5,249.3 1005.0,247.2 1011.4,245.2 1017.8,243.3 1024.3,241.4 1030.7,239.6 1037.2,237.8 1043.6,236.1 1050.0,234.4 1056.5,232.8 1062.9,231.2 1069.4,229.6 1075.8,228.0 1082.3,226.4 1088.7,224.8 1095.1,223.2 1101.6,221.7 1108.0,220.2 1114.5,218.7 1120.9,217.3 1127.3,215.9 1133.8,214.6 1140.2,213.3 1146.7,211.9 1153.1,210.5 1159.6,209.0 1166.0,207.5 1172.4,205.8 1178.9,204.3 1185.3,202.7 1191.8,201.1 1198.2,199.5 1204.7,197.9 1211.1,196.3 1217.5,194.7 1224.0,193.1 1230.4,191.4 1236.9,189.8 1243.3,188.3 1249.7,186.9 1256.2,185.5 1262.6,184.2 1269.1,182.9 1275.5,181.7 1282.0,180.7 1288.4,179.8 1294.8,179.0 1301.3,178.3 1307.7,177.6 1314.2,177.0 1320.6,176.5 1327.1,176.0 1333.5,175.5 1339.9,175.1 1346.4,174.8 1352.8,174.6 1359.3,174.4 1365.7,174.2 1372.1,174.1 1378.6,174.0 1385.0,174.0 1391.5,173.9 1397.9,173.9 1404.4,173.8 1410.8,173.8 1417.2,173.9 1423.7,173.9 1430.1,174.0 1436.6,174.1 1443.0,174.3 1449.4,174.4 1455.9,174.6 1462.3,174.8 1468.8,175.0 1475.2,175.3 1481.7,175.5 1488.1,175.8 1494.5,176.0 1501.0,176.3 1507.4,176.5 1513.9,176.7 1520.3,177.0 1526.8,177.3 1533.2,177.6 1539.6,178.1 1546.1,178.7 1552.5,179.2 1559.0,179.7 1565.4,180.2 1571.8,180.7 1578.3,181.2 1584.7,181.6 1591.2,182.0 1597.6,182.4 1604.1,182.7 1610.5,183.0 1616.9,183.3 1623.4,183.5 1629.8,183.6 1636.3,183.8 1642.7,183.9 1649.2,184.0 1655.6,184.1 1662.0,184.1 1668.5,184.2 1674.9,184.2 1681.4,184.3 1687.8,184.4 1694.2,184.6 1700.7,184.7 1707.1,184.9 1713.6,185.0 1720.0,185.2 1726.5,185.3 1732.9,185.4 1739.3,185.5 1745.8,185.7 1752.2,185.9 1758.7,186.1 1765.1,186.3 1771.5,186.5 1778.0,186.7 1784.4,186.8 1790.9,187.1 1797.3,187.3 1803.8,187.6 1810.2,187.9" fill="none" stroke="#ff00ff" stroke-width="1.3" stroke-linejoin="round" />
<polyline points="0.0,477.0 6.4,474.1 12.9,471.2 19.3,468.1 25.8,465.0 32.2,461.8 38.7,458.6 45.1,455.3 51.5,452.2 58.0,449.1 64.4,446.0 70.9,442.8 77.3,439.6 83.7,436.4 90.2,433.3 96.6,430.3 103.1,427.3 109.5,424.4 116.0,421.5 122.4,418.6 128.8,415.7 135.3,412.8 141.7,410.0 148.2,407.2 154.6,404.3 161.0,401.3 167.5,398.2 173.9,395.1 180.4,391.8 186.8,388.6 193.3,385.2 199.7,381.5 206.1,377.6 212.6,373.9 219.0,370.3 225.5,366.7 231.9,363.1 238.4,359.6 244.8,356.1 251.2,352.7 257.7,349.4 264.1,346.1 270.6,342.9 277.0,339.8 283.4,336.7 289.9,333.7 296.3,330.7 302.8,327.7 309.2,324.7 315.7,321.8 322.1,318.9 328.5,316.1 335.0,313.3 341.4,310.8 347.9,308.5 354.3,306.2 360.8,303.9 367.2,301.7 373.6,299.7 380.1,297.8 386.5,296.1 393.0,294.4 399.4,292.8 405.8,291.1 412.3,289.3 418.7,287.5 425.2,285.6 431.6,283.7 438.1,281.9 444.5,280.1 450.9,278.4 457.4,276.8 463.8,275.2 470.3,273.8 476.7,272.5 483.1,271.1 489.6,269.5 496.0,268.0 502.5,266.5 508.9,265.1 515.4,263.7 521.8,262.4 528.2,261.2 534.7,260.0 541.1,258.8 547.6,257.6 554.0,256.5 560.5,255.4 566.9,254.2 573.3,253.0 579.8,251.8 586.2,250.8 592.7,249.8 599.1,248.8 605.5,247.6 612.0,246.2 618.4,244.8 624.9,243.4 631.3,242.1 637.8,240.9 644.2,239.8 650.6,238.9 657.1,238.1 663.5,237.3 670.0,236.6 676.4,236.1 682.9,235.7 689.3,235.5 695.7,235.3 702.2,235.2 708.6,235.3 715.1,235.3 721.5,235.2 727.9,235.0 734.4,234.9 740.8,234.7 747.3,234.5 753.7,234.1 760.2,233.7 766.6,233.3 773.0,232.7 779.5,232.0 785.9,231.3 792.4,230.4 798.8,229.6 805.2,228.9 811.7,228.3 818.1,227.8 824.6,227.3 831.0,226.7 837.5,226.0 843.9,225.1 850.3,224.2 856.8,223.2 863.2,222.1 869.7,221.1 876.1,220.0 882.6,218.9 889.0,217.8 895.4,216.7 901.9,215.5 908.3,214.4 914.8,213.2 921.2,211.9 927.6,210.5 934.1,209.1 940.5,207.9 947.0,206.7 953.4,205.6 959.9,204.6 966.3,203.6 972.7,202.3 979.2,200.9 985.6,199.3 992.1,197.5 998.5,195.5 1005.0,193.5 1011.4,191.5 1017.8,189.7 1024.3,188.0 1030.7,186.5 1037.2,185.2 1043.6,184.0 1050.0,182.8 1056.5,181.5 1062.9,180.1 1069.4,178.4 1075.8,176.7 1082.3,175.0 1088.7,173.2 1095.1,171.5 1101.6,169.7 1108.0,167.9 1114.5,166.0 1120.9,164.1 1127.3,162.1 1133.8,160.2 1140.2,158.2 1146.7,156.3 1153.1,154.3 1159.6,152.3 1166.0,150.2 1172.4,148.1 1178.9,146.2 1185.3,144.4 1191.8,142.7 1198.2,141.1 1204.7,139.7 1211.1,138.4 1217.5,137.1 1224.0,135.6 1230.4,134.1 1236.9,132.6 1243.3,131.1 1249.7,129.6 1256.2,128.1 1262.6,126.7 1269.1,125.3 1275.5,123.8 1282.0,122.2 1288.4,120.7 1294.8,119.5 1301.3,118.5 1307.7,117.6 1314.2,116.9 1320.6,116.2 1327.1,115.6 1333.5,115.0 1339.9,114.6 1346.4,114.2 1352.8,113.9 1359.3,113.6 1365.7,113.5 1372.1,113.3 1378.6,113.3 1385.0,113.3 1391.5,113.3 1397.9,113.5 1404.4,113.9 1410.8,114.3 1417.2,114.9 1423.7,115.6 1430.1,116.4 1436.6,117.4 1443.0,118.5 1449.4,119.6 1455.9,120.5 1462.3,121.5 1468.8,122.5 1475.2,123.6 1481.7,124.7 1488.1,126.0 1494.5,127.3 1501.0,128.6 1507.4,129.9 1513.9,131.2 1520.3,132.5 1526.8,134.1 1533.2,136.0 1539.6,138.2 1546.1,140.4 1552.5,142.7 1559.0,145.0 1565.4,147.3 1571.8,149.6 1578.3,151.9 1584.7,154.4 1591.2,156.9 1597.6,159.2 1604.1,161.2 1610.5,163.3 1616.9,165.4 1623.4,167.5 1629.8,169.6 1636.3,171.7 1642.7,173.6 1649.2,175.4 1655.6,177.3 1662.0,179.2 1668.5,181.1 1674.9,182.9 1681.4,184.6 1687.8,186.4 1694.2,188.4 1700.7,190.4 1707.1,192.3 1713.6,194.2 1720.0,196.1 1726.5,198.0 1732.9,199.7 1739.3,201.4 1745.8,203.2 1752.2,205.1 1758.7,207.0 1765.1,208.8 1771.5,210.7 1778.0,212.6 1784.4,214.6 1790.9,216.7 1797.3,219.1 1803.8,221.8 1810.2,224.7" fill="none" stroke="#1a56b8" stroke-width="1.05" stroke-linejoin="round" />
<polyline points="0.0,405.7 6.4,402.6 12.9,399.2 19.3,395.5 25.8,391.5 32.2,387.5 38.7,383.6 45.1,379.8 51.5,376.2 58.0,372.8 64.4,369.4 70.9,366.1 77.3,362.8 83.7,359.4 90.2,355.9 96.6,352.4 103.1,349.0 109.5,345.4 116.0,341.8 122.4,338.4 128.8,335.1 135.3,332.0 141.7,329.1 148.2,326.2 154.6,323.2 161.0,320.2 167.5,317.0 173.9,313.7 180.4,310.2 186.8,306.7 193.3,302.8 199.7,298.5 206.1,293.9 212.6,289.3 219.0,284.9 225.5,280.9 231.9,277.1 238.3,273.6 244.8,270.3 251.2,267.2 257.7,264.0 264.1,260.6 270.6,257.3 277.0,254.1 283.4,250.9 289.9,247.9 296.3,245.0 302.8,242.0 309.2,239.1 315.7,236.2 322.1,233.4 328.5,231.0 335.0,228.9 341.4,227.2 347.9,225.9 354.3,224.9 360.7,224.0 367.2,223.4 373.6,223.0 380.1,222.8 386.5,222.8 393.0,223.0 399.4,223.3 405.8,223.4 412.3,223.4 418.7,223.3 425.2,223.1 431.6,223.0 438.0,222.9 444.5,222.7 450.9,222.6 457.4,222.5 463.8,222.4 470.3,222.3 476.7,222.5 483.1,223.0 489.6,223.8 496.0,224.7 502.5,225.5 508.9,226.6 515.4,227.9 521.8,229.7 528.2,231.6 534.7,233.5 541.1,235.1 547.6,236.6 554.0,237.8 560.4,238.9 566.9,239.9 573.3,241.2 579.8,242.7 586.2,244.0 592.7,245.2 599.1,246.0 605.5,246.6 612.0,247.0 618.4,247.4 624.9,247.8 631.3,248.1 637.7,248.3 644.2,248.4 650.6,248.5 657.1,248.5 663.5,248.3 670.0,248.2 676.4,248.0 682.8,247.9 689.3,247.8 695.7,247.6 702.2,247.5 708.6,247.4 715.0,247.3 721.5,247.1 727.9,246.9 734.4,246.7 740.8,246.4 747.3,246.0 753.7,245.6 760.1,245.1 766.6,244.4 773.0,243.3 779.5,242.1 785.9,240.8 792.4,239.3 798.8,237.5 805.2,235.4 811.7,233.2 818.1,231.3 824.6,229.5 831.0,227.5 837.4,225.0 843.9,221.9 850.3,218.4 856.8,214.6 863.2,210.9 869.7,207.4 876.1,204.0 882.5,200.5 889.0,197.0 895.4,193.4 901.9,189.7 908.3,185.9 914.7,182.1 921.2,178.5 927.6,175.0 934.1,171.8 940.5,168.8 947.0,166.0 953.4,163.5 959.8,161.3 966.3,159.3 972.7,157.0 979.2,154.3 985.6,151.1 992.0,147.4 998.5,143.6 1004.9,139.8 1011.4,136.0 1017.8,132.7 1024.3,129.6 1030.7,126.6 1037.1,123.7 1043.6,121.0 1050.0,118.5 1056.5,116.0 1062.9,113.4 1069.4,110.7 1075.8,107.9 1082.2,105.4 1088.7,103.1 1095.1,101.0 1101.6,99.1 1108.0,97.3 1114.4,95.6 1120.9,93.9 1127.3,92.2 1133.8,90.5 1140.2,88.8 1146.7,87.0 1153.1,85.4 1159.5,84.0 1166.0,82.9 1172.4,82.0 1178.9,81.3 1185.3,80.8 1191.7,80.4 1198.2,80.3 1204.6,80.5 1211.1,81.1 1217.5,81.7 1224.0,82.1 1230.4,82.5 1236.8,83.0 1243.3,83.7 1249.7,84.3 1256.2,84.7 1262.6,84.9 1269.0,84.9 1275.5,84.7 1281.9,84.5 1288.4,84.5 1294.8,84.8 1301.3,85.8 1307.7,87.5 1314.1,89.8 1320.6,92.2 1327.0,94.5 1333.5,96.6 1339.9,98.6 1346.4,100.6 1352.8,102.7 1359.2,104.8 1365.7,106.7 1372.1,108.5 1378.6,110.3 1385.0,112.6 1391.4,115.4 1397.9,118.5 1404.3,121.7 1410.8,124.7 1417.2,127.9 1423.7,131.3 1430.1,134.9 1436.5,138.7 1443.0,142.7 1449.4,146.7 1455.9,150.5 1462.3,154.2 1468.7,157.8 1475.2,161.4 1481.6,165.0 1488.1,168.6 1494.5,172.2 1501.0,175.7 1507.4,179.2 1513.8,182.6 1520.3,185.8 1526.7,188.9 1533.2,192.4 1539.6,196.3 1546.1,200.4 1552.5,204.6 1558.9,208.8 1565.4,212.8 1571.8,217.0 1578.3,221.5 1584.7,226.2 1591.1,230.8 1597.6,235.1 1604.0,238.8 1610.5,242.0 1616.9,245.0 1623.4,247.7 1629.8,250.0 1636.2,252.0 1642.7,253.8 1649.1,255.5 1655.6,257.3 1662.0,258.9 1668.4,260.4 1674.9,261.7 1681.3,263.0 1687.8,264.3 1694.2,265.7 1700.7,266.9 1707.1,268.0 1713.5,268.8 1720.0,269.5 1726.4,270.2 1732.9,270.9 1739.3,271.5 1745.7,272.1 1752.2,272.6 1758.6,273.2 1765.1,273.6 1771.5,273.8 1778.0,273.9 1784.4,274.2 1790.8,275.0 1797.3,276.3 1803.7,277.9 1810.2,279.5" fill="none" stroke="#ff1a1a" stroke-width="1.05" stroke-linejoin="round" />
</g>
<g shape-rendering="crispEdges">
<rect x="1" y="14" width="1847" height="1" fill="#8c8c8c"/>
<rect x="0" y="314" width="1849" height="2" fill="#ff0000"/>
<rect x="0" y="359" width="1849" height="2" fill="#ff0000"/>
<rect x="0" y="353" width="1848" height="1" fill="#3b5374"/>
</g>
<path d="M1849,353.5 L1851.3,350.3 L1851.3,347.1 Q1851.3,345.6 1852.8,345.6 L1898.9,345.6 Q1900.4,345.6 1900.4,347.1 L1900.4,359.0 Q1900.4,360.5 1898.9,360.5 L1852.8,360.5 Q1851.3,360.5 1851.3,359.0 L1851.3,356.7 Z" fill="#2d4a75"/>
<text x="1856.6" y="357.6" font-size="11" font-weight="bold" fill="#fff">1.13926</text>
<g shape-rendering="crispEdges">
<rect x="1" y="566" width="1847" height="1" fill="#e5e5e5"/>
<rect x="1" y="589" width="1847" height="1" fill="#e5e5e5"/>
<rect x="1" y="613" width="1847" height="1" fill="#e5e5e5"/>
</g>
<rect x="1849" y="565.80" width="5" height="1" fill="#8c8c8c"/>
<text x="1856" y="571" font-size="11" fill="#555">75.0000</text>
<rect x="1849" y="589.34" width="5" height="1" fill="#8c8c8c"/>
<text x="1856" y="594" font-size="11" fill="#555">50.0000</text>
<rect x="1849" y="612.87" width="5" height="1" fill="#8c8c8c"/>
<text x="1856" y="618" font-size="11" fill="#555">25.0000</text>
<rect x="1849" y="636.40" width="5" height="1" fill="#8c8c8c"/>
<text x="1856" y="641" font-size="11" fill="#555">0.0000</text>
<g shape-rendering="crispEdges"><rect x="1" y="572" width="1810" height="1" fill="#fff" fill-opacity="0.85"/><rect x="1" y="607" width="1810" height="1" fill="#fff" fill-opacity="0.85"/></g>
<polyline points="0.5,581.4 6.5,576.7 12.5,576.3 19.5,572.1 25.5,576.2 32.5,570.5 38.5,569.2 44.5,571.1 51.5,570.9 57.5,567.0 64.5,573.3 70.5,570.0 77.5,566.4 83.5,570.4 89.5,568.3 96.5,567.8 102.5,576.9 109.5,575.9 115.5,579.6 122.5,579.3 128.5,578.6 134.5,575.6 141.5,579.7 147.5,584.0 154.5,581.7 160.5,585.8 166.5,583.2 173.5,579.6 179.5,584.3 186.5,581.3 192.5,582.0 199.5,574.6 205.5,571.9 211.5,572.5 218.5,581.1 224.5,579.6 231.5,583.8 237.5,581.5 243.5,580.5 250.5,580.3 256.5,573.9 263.5,573.3 269.5,581.6 276.5,580.7 282.5,587.7 288.5,585.3 295.5,583.6 301.5,582.9 308.5,580.1 314.5,589.1 321.5,585.7 327.5,585.1 333.5,593.0 340.5,596.6 346.5,599.5 353.5,596.1 359.5,593.7 365.5,598.9 372.5,598.1 378.5,596.4 385.5,599.6 391.5,597.8 398.5,596.9 404.5,590.6 410.5,586.5 417.5,589.0 423.5,589.6 430.5,591.9 436.5,594.5 443.5,592.5 449.5,586.4 455.5,592.4 462.5,595.3 468.5,594.0 475.5,589.1 481.5,600.7 487.5,602.9 494.5,599.3 500.5,599.5 507.5,601.2 513.5,597.5 520.5,600.6 526.5,600.6 532.5,601.9 539.5,601.1 545.5,596.1 552.5,593.6 558.5,593.2 564.5,581.9 571.5,582.3 577.5,584.2 584.5,582.3 590.5,589.1 597.5,588.4 603.5,581.3 609.5,579.2 616.5,574.0 622.5,577.5 629.5,583.4 635.5,582.8 642.5,579.1 648.5,580.1 654.5,584.0 661.5,587.3 667.5,589.9 674.5,592.0 680.5,592.9 686.5,592.1 693.5,594.7 699.5,586.4 706.5,590.2 712.5,593.5 719.5,590.7 725.5,585.0 731.5,581.8 738.5,582.1 744.5,584.0 751.5,583.0 757.5,583.8 764.5,580.9 770.5,576.7 776.5,572.3 783.5,572.0 789.5,568.3 796.5,575.2 802.5,571.5 808.5,574.9 815.5,584.0 821.5,587.0 828.5,585.4 834.5,579.4 841.5,570.6 847.5,567.3 853.5,567.5 860.5,573.1 866.5,572.0 873.5,573.8 879.5,571.7 885.5,570.1 892.5,565.6 898.5,565.3 905.5,564.8 911.5,569.4 918.5,568.9 924.5,567.8 930.5,563.5 937.5,569.9 943.5,577.8 950.5,579.5 956.5,589.0 963.5,590.3 969.5,590.9 975.5,586.7 982.5,582.1 988.5,576.0 995.5,574.1 1001.5,582.5 1007.5,582.5 1014.5,587.8 1020.5,591.0 1027.5,588.7 1033.5,590.7 1040.5,589.5 1046.5,595.3 1052.5,597.2 1059.5,592.2 1065.5,587.3 1072.5,586.6 1078.5,582.5 1085.5,581.9 1091.5,589.7 1097.5,590.3 1104.5,588.3 1110.5,584.3 1117.5,586.1 1123.5,591.3 1129.5,592.3 1136.5,588.7 1142.5,595.6 1149.5,588.3 1155.5,590.8 1162.5,587.3 1168.5,581.6 1174.5,584.9 1181.5,591.3 1187.5,591.8 1194.5,590.5 1200.5,593.8 1206.5,593.3 1213.5,595.9 1219.5,592.5 1226.5,589.2 1232.5,586.5 1239.5,585.7 1245.5,589.1 1251.5,588.7 1258.5,584.8 1264.5,585.6 1271.5,585.4 1277.5,588.3 1284.5,594.0 1290.5,600.5 1296.5,597.9 1303.5,602.7 1309.5,606.1 1316.5,603.4 1322.5,606.4 1328.5,610.5 1335.5,612.4 1341.5,608.3 1348.5,609.5 1354.5,611.4 1361.5,613.9 1367.5,614.4 1373.5,606.8 1380.5,604.0 1386.5,604.7 1393.5,609.6 1399.5,610.9 1406.5,611.5 1412.5,612.5 1418.5,610.4 1425.5,610.9 1431.5,614.9 1438.5,612.2 1444.5,615.3 1450.5,616.3 1457.5,619.3 1463.5,605.1 1470.5,602.3 1476.5,604.0 1483.5,600.3 1489.5,598.5 1495.5,593.3 1502.5,591.2 1508.5,593.3 1515.5,592.3 1521.5,595.2 1527.5,591.0 1534.5,605.0 1540.5,601.5 1547.5,600.4 1553.5,602.2 1560.5,603.1 1566.5,600.1 1572.5,595.4 1579.5,591.3 1585.5,595.1 1592.5,600.9 1598.5,599.8 1605.5,590.2 1611.5,593.4 1617.5,592.2 1624.5,592.3 1630.5,589.5 1637.5,585.7 1643.5,585.0 1649.5,585.5 1656.5,591.8 1662.5,592.0 1669.5,590.8 1675.5,588.3 1682.5,592.7 1688.5,594.7 1694.5,594.5 1701.5,586.7 1707.5,589.6 1714.5,589.8 1720.5,586.1 1727.5,594.1 1733.5,592.8 1739.5,588.0 1746.5,589.4 1752.5,592.5 1759.5,598.7 1765.5,600.0 1771.5,601.0 1778.5,595.9 1784.5,594.7 1791.5,601.2 1797.5,608.2 1804.5,608.3 1810.5,609.2" fill="none" stroke="#1436ff" stroke-width="1.15" stroke-linejoin="round" />
<g shape-rendering="crispEdges"><rect x="0" y="543" width="1810" height="29" fill="#00ff00" fill-opacity="0.5"/>
<rect x="0" y="543" width="1" height="29" fill="#000"/><rect x="1810" y="543" width="1" height="29" fill="#003a00"/>
<rect x="0" y="571" width="1811" height="1" fill="#003a00"/></g>
<g shape-rendering="crispEdges"><rect x="0" y="608" width="1810" height="29" fill="#ff0000" fill-opacity="0.5"/>
<rect x="0" y="608" width="1" height="29" fill="#000"/><rect x="1810" y="608" width="1" height="29" fill="#3a0000"/>
<rect x="0" y="608" width="1811" height="1" fill="#3a0000"/></g>
<g shape-rendering="crispEdges">
<rect x="1" y="659" width="1847" height="1" fill="#e5e5e5"/>
<rect x="1" y="686" width="1847" height="1" fill="#e5e5e5"/>
<rect x="1" y="713" width="1847" height="1" fill="#e5e5e5"/>
</g>
<g>
</g>
<rect x="1849" y="658.70" width="5" height="1" fill="#8c8c8c"/>
<text x="1856" y="663" font-size="11" fill="#555">0.0100</text>
<rect x="1849" y="685.90" width="5" height="1" fill="#8c8c8c"/>
<text x="1856" y="691" font-size="11" fill="#555">-0.0000</text>
<rect x="1849" y="713.00" width="5" height="1" fill="#8c8c8c"/>
<text x="1856" y="718" font-size="11" fill="#555">-0.0100</text>
<clipPath id="cmacd"><rect x="1" y="648" width="1847" height="77"/></clipPath><g clip-path="url(#cmacd)">
<polyline points="0.5,668.0 6.5,667.8 12.5,667.5 19.5,666.9 25.5,666.4 32.5,665.4 38.5,664.2 44.5,663.0 51.5,661.9 57.5,660.6 64.5,659.6 70.5,658.5 77.5,657.1 83.5,655.8 89.5,654.5 96.5,653.3 102.5,652.7 109.5,652.4 115.5,652.7 122.5,653.3 128.5,654.2 134.5,655.0 141.5,656.0 147.5,657.3 154.5,658.6 160.5,660.2 166.5,661.7 173.5,663.0 179.5,664.2 186.5,665.3 192.5,666.3 199.5,666.7 205.5,666.5 211.5,666.0 218.5,665.7 224.5,665.6 231.5,665.9 237.5,666.2 243.5,666.5 250.5,666.9 256.5,666.8 263.5,666.5 269.5,666.4 276.5,666.5 282.5,667.0 288.5,667.7 295.5,668.5 301.5,669.2 308.5,669.7 314.5,670.5 321.5,671.3 327.5,672.1 333.5,673.2 340.5,674.8 346.5,676.9 353.5,679.0 359.5,680.8 365.5,682.8 372.5,684.7 378.5,686.5 385.5,688.2 391.5,689.7 398.5,691.0 404.5,691.8 410.5,691.9 417.5,691.8 423.5,691.6 430.5,691.3 436.5,691.2 443.5,691.1 449.5,690.7 455.5,690.5 462.5,690.4 468.5,690.5 475.5,690.3 481.5,690.8 487.5,691.8 494.5,692.8 500.5,693.8 507.5,694.9 513.5,695.8 520.5,696.7 526.5,697.5 532.5,698.3 539.5,699.0 545.5,699.3 552.5,699.3 558.5,699.0 564.5,698.0 571.5,696.6 577.5,695.1 584.5,693.4 590.5,692.0 597.5,690.8 603.5,689.5 609.5,687.9 616.5,686.0 622.5,684.1 629.5,682.5 635.5,681.2 642.5,679.9 648.5,678.7 654.5,677.9 661.5,677.5 667.5,677.5 674.5,677.9 680.5,678.5 686.5,679.3 693.5,680.2 699.5,680.9 706.5,681.5 712.5,682.3 719.5,682.9 725.5,683.3 731.5,683.2 738.5,682.9 744.5,682.6 751.5,682.2 757.5,681.9 764.5,681.4 770.5,680.8 776.5,679.8 783.5,678.6 789.5,677.2 796.5,675.8 802.5,674.5 808.5,673.3 815.5,672.6 821.5,672.4 828.5,672.5 834.5,672.5 841.5,671.8 847.5,670.4 853.5,668.6 860.5,666.9 866.5,665.4 873.5,664.1 879.5,663.0 885.5,661.9 892.5,660.5 898.5,659.0 905.5,657.6 911.5,656.4 918.5,655.5 924.5,654.8 930.5,653.9 937.5,653.2 943.5,653.1 950.5,653.5 956.5,654.8 963.5,656.7 969.5,658.9 975.5,661.2 982.5,663.0 988.5,664.1 995.5,664.6 1001.5,665.0 1007.5,665.6 1014.5,666.5 1020.5,667.8 1027.5,669.2 1033.5,670.7 1040.5,672.3 1046.5,674.1 1052.5,676.1 1059.5,678.0 1065.5,679.3 1072.5,680.3 1078.5,680.7 1085.5,680.7 1091.5,680.8 1097.5,681.1 1104.5,681.4 1110.5,681.4 1117.5,681.4 1123.5,681.6 1129.5,682.1 1136.5,682.4 1142.5,683.1 1149.5,683.6 1155.5,684.1 1162.5,684.3 1168.5,684.0 1174.5,683.5 1181.5,683.4 1187.5,683.5 1194.5,683.8 1200.5,684.2 1206.5,684.8 1213.5,685.6 1219.5,686.3 1226.5,686.8 1232.5,686.9 1239.5,686.7 1245.5,686.5 1251.5,686.3 1258.5,686.0 1264.5,685.5 1271.5,685.1 1277.5,684.7 1284.5,684.7 1290.5,685.3 1296.5,686.1 1303.5,687.3 1309.5,689.0 1316.5,690.7 1322.5,692.6 1328.5,694.8 1335.5,697.3 1341.5,699.7 1348.5,701.9 1354.5,704.1 1361.5,706.3 1367.5,708.5 1373.5,710.1 1380.5,711.2 1386.5,712.0 1393.5,712.7 1399.5,713.5 1406.5,714.3 1412.5,715.0 1418.5,715.6 1425.5,716.0 1431.5,716.6 1438.5,717.0 1444.5,717.7 1450.5,718.4 1457.5,719.4 1463.5,720.0 1470.5,720.0 1476.5,719.8 1483.5,719.2 1489.5,718.2 1495.5,716.7 1502.5,714.8 1508.5,712.8 1515.5,710.7 1521.5,708.8 1527.5,706.8 1534.5,705.9 1540.5,705.4 1547.5,705.1 1553.5,705.0 1560.5,705.1 1566.5,705.2 1572.5,705.0 1579.5,704.3 1585.5,703.6 1592.5,703.2 1598.5,703.0 1605.5,702.4 1611.5,701.7 1617.5,700.9 1624.5,700.0 1630.5,698.9 1637.5,697.5 1643.5,696.0 1649.5,694.4 1656.5,693.2 1662.5,692.2 1669.5,691.4 1675.5,690.6 1682.5,690.1 1688.5,689.9 1694.5,689.8 1701.5,689.4 1707.5,689.1 1714.5,688.8 1720.5,688.3 1727.5,688.1 1733.5,688.1 1739.5,687.9 1746.5,687.7 1752.5,687.6 1759.5,688.0 1765.5,688.6 1771.5,689.5 1778.5,690.2 1784.5,690.8 1791.5,691.6 1797.5,693.0 1804.5,694.6 1810.5,696.4" fill="none" stroke="#ff7a14" stroke-width="1.15" stroke-linejoin="round" />
<polyline points="0.5,667.7 6.5,667.0 12.5,666.4 19.5,664.6 25.5,664.2 32.5,661.7 38.5,659.3 44.5,658.2 51.5,657.5 57.5,655.4 64.5,655.4 70.5,654.1 77.5,651.5 83.5,650.7 89.5,649.3 96.5,648.4 102.5,650.1 109.5,651.5 115.5,653.8 122.5,655.9 128.5,657.6 134.5,658.2 141.5,659.9 147.5,662.4 154.5,664.0 160.5,666.5 166.5,667.8 173.5,668.0 179.5,669.3 186.5,669.7 192.5,670.2 199.5,668.2 205.5,665.6 211.5,664.0 218.5,664.8 224.5,665.2 231.5,666.8 237.5,667.5 243.5,667.9 250.5,668.3 256.5,666.5 263.5,665.1 269.5,666.1 276.5,666.8 282.5,669.2 288.5,670.7 295.5,671.4 301.5,671.9 308.5,671.6 314.5,673.8 321.5,674.6 327.5,675.1 333.5,677.9 340.5,681.3 346.5,685.1 353.5,687.2 359.5,688.2 365.5,690.8 372.5,692.5 378.5,693.4 385.5,695.1 391.5,695.9 398.5,696.2 404.5,694.8 410.5,692.6 417.5,691.4 423.5,690.5 430.5,690.4 436.5,690.8 443.5,690.7 449.5,689.2 455.5,689.4 462.5,690.3 468.5,690.7 475.5,689.8 481.5,692.6 487.5,695.6 494.5,697.0 500.5,698.0 507.5,699.3 513.5,699.3 520.5,700.2 526.5,700.8 532.5,701.4 539.5,701.6 545.5,700.7 552.5,699.2 558.5,697.9 564.5,694.0 571.5,691.0 577.5,688.9 584.5,686.8 590.5,686.5 597.5,686.1 603.5,684.0 609.5,681.7 616.5,678.3 622.5,676.3 629.5,676.1 635.5,675.9 642.5,674.8 648.5,674.2 654.5,674.7 661.5,675.8 667.5,677.5 674.5,679.4 680.5,681.1 686.5,682.4 693.5,684.0 699.5,683.6 706.5,684.1 712.5,685.2 719.5,685.6 725.5,684.6 731.5,683.0 738.5,681.8 744.5,681.3 751.5,680.7 757.5,680.5 764.5,679.7 770.5,678.1 776.5,675.8 783.5,673.9 789.5,671.4 796.5,670.6 802.5,669.0 808.5,668.4 815.5,669.8 821.5,671.7 828.5,673.0 834.5,672.5 841.5,668.9 847.5,664.6 853.5,661.4 860.5,660.3 866.5,659.3 873.5,659.2 879.5,658.5 885.5,657.6 892.5,654.9 898.5,653.0 905.5,651.6 911.5,651.7 918.5,651.9 924.5,652.0 930.5,650.3 937.5,650.5 943.5,652.7 950.5,655.2 956.5,659.8 963.5,664.2 969.5,668.0 975.5,670.0 982.5,670.4 988.5,668.5 995.5,666.3 1001.5,667.0 1007.5,667.8 1014.5,670.1 1020.5,673.0 1027.5,674.8 1033.5,676.9 1040.5,678.3 1046.5,681.3 1052.5,684.3 1059.5,685.4 1065.5,684.8 1072.5,684.1 1078.5,682.2 1085.5,680.6 1091.5,681.5 1097.5,682.4 1104.5,682.6 1110.5,681.6 1117.5,681.3 1123.5,682.5 1129.5,683.8 1136.5,683.9 1142.5,686.0 1149.5,685.6 1155.5,686.0 1162.5,685.3 1168.5,682.7 1174.5,681.6 1181.5,682.9 1187.5,684.1 1194.5,684.6 1200.5,686.1 1206.5,687.2 1213.5,688.8 1219.5,689.1 1226.5,688.5 1232.5,687.2 1239.5,686.0 1245.5,685.9 1251.5,685.6 1258.5,684.5 1264.5,683.8 1271.5,683.2 1277.5,683.3 1284.5,684.7 1290.5,687.6 1296.5,689.4 1303.5,692.2 1309.5,695.6 1316.5,697.6 1322.5,700.1 1328.5,703.8 1335.5,707.4 1341.5,709.2 1348.5,710.8 1354.5,712.7 1361.5,715.2 1367.5,717.1 1373.5,716.8 1380.5,715.7 1386.5,714.8 1393.5,715.7 1399.5,716.7 1406.5,717.4 1412.5,718.1 1418.5,717.9 1425.5,717.6 1431.5,718.8 1438.5,718.9 1444.5,720.2 1450.5,721.3 1457.5,723.6 1463.5,722.3 1470.5,720.2 1476.5,718.9 1483.5,716.7 1489.5,714.3 1495.5,710.8 1502.5,707.2 1508.5,704.7 1515.5,702.4 1521.5,701.1 1527.5,699.0 1534.5,702.0 1540.5,703.3 1547.5,703.8 1553.5,704.8 1560.5,705.7 1566.5,705.5 1572.5,704.0 1579.5,701.6 1585.5,700.7 1592.5,701.8 1598.5,702.3 1605.5,699.9 1611.5,698.8 1617.5,697.5 1624.5,696.4 1630.5,694.7 1637.5,692.1 1643.5,689.8 1649.5,688.0 1656.5,688.2 1662.5,688.4 1669.5,688.3 1675.5,687.5 1682.5,688.0 1688.5,688.8 1694.5,689.4 1701.5,688.1 1707.5,687.7 1714.5,687.4 1720.5,686.4 1727.5,687.4 1733.5,687.9 1739.5,687.2 1746.5,686.9 1752.5,687.4 1759.5,689.3 1765.5,691.2 1771.5,692.9 1778.5,693.2 1784.5,693.2 1791.5,694.8 1797.5,698.5 1804.5,701.3 1810.5,703.7" fill="none" stroke="#1436ff" stroke-width="1.15" stroke-linejoin="round" />
</g>
<rect x="-2" y="685.93" width="5" height="0.27" fill="#00ff00"/>
<rect x="4" y="685.39" width="5" height="0.81" fill="#00ff00"/>
<rect x="10" y="685.13" width="5" height="1.07" fill="#00ff00"/>
<rect x="17" y="683.88" width="5" height="2.32" fill="#00ff00"/>
<rect x="23" y="684.05" width="5" height="2.15" fill="#00ff00"/>
<rect x="30" y="682.45" width="5" height="3.75" fill="#00ff00"/>
<rect x="36" y="681.30" width="5" height="4.90" fill="#00ff00"/>
<rect x="42" y="681.34" width="5" height="4.86" fill="#00ff00"/>
<rect x="49" y="681.76" width="5" height="4.44" fill="#00ff00"/>
<rect x="55" y="680.99" width="5" height="5.21" fill="#00ff00"/>
<rect x="62" y="682.01" width="5" height="4.19" fill="#00ff00"/>
<rect x="68" y="681.87" width="5" height="4.33" fill="#00ff00"/>
<rect x="75" y="680.64" width="5" height="5.56" fill="#00ff00"/>
<rect x="81" y="681.10" width="5" height="5.10" fill="#00ff00"/>
<rect x="87" y="681.02" width="5" height="5.18" fill="#00ff00"/>
<rect x="94" y="681.31" width="5" height="4.89" fill="#00ff00"/>
<rect x="100" y="683.67" width="5" height="2.53" fill="#00ff00"/>
<rect x="107" y="685.25" width="5" height="0.95" fill="#00ff00"/>
<rect x="113" y="686.20" width="5" height="1.11" fill="#ff0000"/>
<rect x="120" y="686.20" width="5" height="2.56" fill="#ff0000"/>
<rect x="126" y="686.20" width="5" height="3.43" fill="#ff0000"/>
<rect x="132" y="686.20" width="5" height="3.21" fill="#ff0000"/>
<rect x="139" y="686.20" width="5" height="3.88" fill="#ff0000"/>
<rect x="145" y="686.20" width="5" height="5.17" fill="#ff0000"/>
<rect x="152" y="686.20" width="5" height="5.40" fill="#ff0000"/>
<rect x="158" y="686.20" width="5" height="6.28" fill="#ff0000"/>
<rect x="164" y="686.20" width="5" height="6.12" fill="#ff0000"/>
<rect x="171" y="686.20" width="5" height="4.99" fill="#ff0000"/>
<rect x="177" y="686.20" width="5" height="5.10" fill="#ff0000"/>
<rect x="184" y="686.20" width="5" height="4.34" fill="#ff0000"/>
<rect x="190" y="686.20" width="5" height="3.94" fill="#ff0000"/>
<rect x="197" y="686.20" width="5" height="1.55" fill="#ff0000"/>
<rect x="203" y="685.36" width="5" height="0.84" fill="#00ff00"/>
<rect x="209" y="684.19" width="5" height="2.01" fill="#00ff00"/>
<rect x="216" y="685.28" width="5" height="0.92" fill="#00ff00"/>
<rect x="222" y="685.78" width="5" height="0.42" fill="#00ff00"/>
<rect x="229" y="686.20" width="5" height="0.91" fill="#ff0000"/>
<rect x="235" y="686.20" width="5" height="1.27" fill="#ff0000"/>
<rect x="241" y="686.20" width="5" height="1.34" fill="#ff0000"/>
<rect x="248" y="686.20" width="5" height="1.43" fill="#ff0000"/>
<rect x="254" y="685.93" width="5" height="0.27" fill="#00ff00"/>
<rect x="261" y="684.87" width="5" height="1.33" fill="#00ff00"/>
<rect x="267" y="685.89" width="5" height="0.31" fill="#00ff00"/>
<rect x="274" y="686.20" width="5" height="0.29" fill="#ff0000"/>
<rect x="280" y="686.20" width="5" height="2.21" fill="#ff0000"/>
<rect x="286" y="686.20" width="5" height="2.90" fill="#ff0000"/>
<rect x="293" y="686.20" width="5" height="2.91" fill="#ff0000"/>
<rect x="299" y="686.20" width="5" height="2.76" fill="#ff0000"/>
<rect x="306" y="686.20" width="5" height="1.98" fill="#ff0000"/>
<rect x="312" y="686.20" width="5" height="3.28" fill="#ff0000"/>
<rect x="319" y="686.20" width="5" height="3.26" fill="#ff0000"/>
<rect x="325" y="686.20" width="5" height="3.06" fill="#ff0000"/>
<rect x="331" y="686.20" width="5" height="4.65" fill="#ff0000"/>
<rect x="338" y="686.20" width="5" height="6.46" fill="#ff0000"/>
<rect x="344" y="686.20" width="5" height="8.19" fill="#ff0000"/>
<rect x="351" y="686.20" width="5" height="8.25" fill="#ff0000"/>
<rect x="357" y="686.20" width="5" height="7.42" fill="#ff0000"/>
<rect x="363" y="686.20" width="5" height="7.97" fill="#ff0000"/>
<rect x="370" y="686.20" width="5" height="7.77" fill="#ff0000"/>
<rect x="376" y="686.20" width="5" height="6.93" fill="#ff0000"/>
<rect x="383" y="686.20" width="5" height="6.88" fill="#ff0000"/>
<rect x="389" y="686.20" width="5" height="6.14" fill="#ff0000"/>
<rect x="396" y="686.20" width="5" height="5.16" fill="#ff0000"/>
<rect x="402" y="686.20" width="5" height="3.05" fill="#ff0000"/>
<rect x="408" y="686.20" width="5" height="0.65" fill="#ff0000"/>
<rect x="415" y="685.74" width="5" height="0.46" fill="#00ff00"/>
<rect x="421" y="685.15" width="5" height="1.05" fill="#00ff00"/>
<rect x="428" y="685.23" width="5" height="0.97" fill="#00ff00"/>
<rect x="434" y="685.81" width="5" height="0.39" fill="#00ff00"/>
<rect x="441" y="685.81" width="5" height="0.39" fill="#00ff00"/>
<rect x="447" y="684.64" width="5" height="1.56" fill="#00ff00"/>
<rect x="453" y="685.11" width="5" height="1.09" fill="#00ff00"/>
<rect x="460" y="686.06" width="5" height="0.14" fill="#00ff00"/>
<rect x="466" y="686.20" width="5" height="0.20" fill="#ff0000"/>
<rect x="473" y="685.66" width="5" height="0.54" fill="#00ff00"/>
<rect x="479" y="686.20" width="5" height="1.81" fill="#ff0000"/>
<rect x="485" y="686.20" width="5" height="3.85" fill="#ff0000"/>
<rect x="492" y="686.20" width="5" height="4.18" fill="#ff0000"/>
<rect x="498" y="686.20" width="5" height="4.18" fill="#ff0000"/>
<rect x="505" y="686.20" width="5" height="4.35" fill="#ff0000"/>
<rect x="511" y="686.20" width="5" height="3.50" fill="#ff0000"/>
<rect x="518" y="686.20" width="5" height="3.53" fill="#ff0000"/>
<rect x="524" y="686.20" width="5" height="3.25" fill="#ff0000"/>
<rect x="530" y="686.20" width="5" height="3.14" fill="#ff0000"/>
<rect x="537" y="686.20" width="5" height="2.67" fill="#ff0000"/>
<rect x="543" y="686.20" width="5" height="1.36" fill="#ff0000"/>
<rect x="556" y="685.09" width="5" height="1.11" fill="#00ff00"/>
<rect x="562" y="682.21" width="5" height="3.99" fill="#00ff00"/>
<rect x="569" y="680.57" width="5" height="5.63" fill="#00ff00"/>
<rect x="575" y="680.04" width="5" height="6.16" fill="#00ff00"/>
<rect x="582" y="679.56" width="5" height="6.64" fill="#00ff00"/>
<rect x="588" y="680.67" width="5" height="5.53" fill="#00ff00"/>
<rect x="595" y="681.47" width="5" height="4.73" fill="#00ff00"/>
<rect x="601" y="680.74" width="5" height="5.46" fill="#00ff00"/>
<rect x="607" y="680.02" width="5" height="6.18" fill="#00ff00"/>
<rect x="614" y="678.47" width="5" height="7.73" fill="#00ff00"/>
<rect x="620" y="678.45" width="5" height="7.75" fill="#00ff00"/>
<rect x="627" y="679.86" width="5" height="6.34" fill="#00ff00"/>
<rect x="633" y="680.96" width="5" height="5.24" fill="#00ff00"/>
<rect x="640" y="681.08" width="5" height="5.12" fill="#00ff00"/>
<rect x="646" y="681.64" width="5" height="4.56" fill="#00ff00"/>
<rect x="652" y="682.93" width="5" height="3.27" fill="#00ff00"/>
<rect x="659" y="684.54" width="5" height="1.66" fill="#00ff00"/>
<rect x="672" y="686.20" width="5" height="1.49" fill="#ff0000"/>
<rect x="678" y="686.20" width="5" height="2.58" fill="#ff0000"/>
<rect x="684" y="686.20" width="5" height="3.08" fill="#ff0000"/>
<rect x="691" y="686.20" width="5" height="3.74" fill="#ff0000"/>
<rect x="697" y="686.20" width="5" height="2.67" fill="#ff0000"/>
<rect x="704" y="686.20" width="5" height="2.54" fill="#ff0000"/>
<rect x="710" y="686.20" width="5" height="2.95" fill="#ff0000"/>
<rect x="717" y="686.20" width="5" height="2.64" fill="#ff0000"/>
<rect x="723" y="686.20" width="5" height="1.30" fill="#ff0000"/>
<rect x="729" y="685.96" width="5" height="0.24" fill="#00ff00"/>
<rect x="736" y="685.09" width="5" height="1.11" fill="#00ff00"/>
<rect x="742" y="684.90" width="5" height="1.30" fill="#00ff00"/>
<rect x="749" y="684.70" width="5" height="1.50" fill="#00ff00"/>
<rect x="755" y="684.79" width="5" height="1.41" fill="#00ff00"/>
<rect x="762" y="684.46" width="5" height="1.74" fill="#00ff00"/>
<rect x="768" y="683.57" width="5" height="2.63" fill="#00ff00"/>
<rect x="774" y="682.19" width="5" height="4.01" fill="#00ff00"/>
<rect x="781" y="681.52" width="5" height="4.68" fill="#00ff00"/>
<rect x="787" y="680.44" width="5" height="5.76" fill="#00ff00"/>
<rect x="794" y="680.95" width="5" height="5.25" fill="#00ff00"/>
<rect x="800" y="680.68" width="5" height="5.52" fill="#00ff00"/>
<rect x="806" y="681.33" width="5" height="4.87" fill="#00ff00"/>
<rect x="813" y="683.43" width="5" height="2.77" fill="#00ff00"/>
<rect x="819" y="685.52" width="5" height="0.68" fill="#00ff00"/>
<rect x="826" y="686.20" width="5" height="0.49" fill="#ff0000"/>
<rect x="839" y="683.34" width="5" height="2.86" fill="#00ff00"/>
<rect x="845" y="680.40" width="5" height="5.80" fill="#00ff00"/>
<rect x="851" y="679.03" width="5" height="7.17" fill="#00ff00"/>
<rect x="858" y="679.62" width="5" height="6.58" fill="#00ff00"/>
<rect x="864" y="680.11" width="5" height="6.09" fill="#00ff00"/>
<rect x="871" y="681.21" width="5" height="4.99" fill="#00ff00"/>
<rect x="877" y="681.69" width="5" height="4.51" fill="#00ff00"/>
<rect x="883" y="681.86" width="5" height="4.34" fill="#00ff00"/>
<rect x="890" y="680.60" width="5" height="5.60" fill="#00ff00"/>
<rect x="896" y="680.20" width="5" height="6.00" fill="#00ff00"/>
<rect x="903" y="680.27" width="5" height="5.93" fill="#00ff00"/>
<rect x="909" y="681.51" width="5" height="4.69" fill="#00ff00"/>
<rect x="916" y="682.64" width="5" height="3.56" fill="#00ff00"/>
<rect x="922" y="683.42" width="5" height="2.78" fill="#00ff00"/>
<rect x="928" y="682.63" width="5" height="3.57" fill="#00ff00"/>
<rect x="935" y="683.50" width="5" height="2.70" fill="#00ff00"/>
<rect x="941" y="685.78" width="5" height="0.42" fill="#00ff00"/>
<rect x="948" y="686.20" width="5" height="1.63" fill="#ff0000"/>
<rect x="954" y="686.20" width="5" height="5.06" fill="#ff0000"/>
<rect x="961" y="686.20" width="5" height="7.51" fill="#ff0000"/>
<rect x="967" y="686.20" width="5" height="9.07" fill="#ff0000"/>
<rect x="973" y="686.20" width="5" height="8.88" fill="#ff0000"/>
<rect x="980" y="686.20" width="5" height="7.39" fill="#ff0000"/>
<rect x="986" y="686.20" width="5" height="4.40" fill="#ff0000"/>
<rect x="993" y="686.20" width="5" height="1.79" fill="#ff0000"/>
<rect x="999" y="686.20" width="5" height="1.98" fill="#ff0000"/>
<rect x="1005" y="686.20" width="5" height="2.19" fill="#ff0000"/>
<rect x="1012" y="686.20" width="5" height="3.58" fill="#ff0000"/>
<rect x="1018" y="686.20" width="5" height="5.24" fill="#ff0000"/>
<rect x="1025" y="686.20" width="5" height="5.60" fill="#ff0000"/>
<rect x="1031" y="686.20" width="5" height="6.17" fill="#ff0000"/>
<rect x="1038" y="686.20" width="5" height="6.07" fill="#ff0000"/>
<rect x="1044" y="686.20" width="5" height="7.24" fill="#ff0000"/>
<rect x="1050" y="686.20" width="5" height="8.21" fill="#ff0000"/>
<rect x="1057" y="686.20" width="5" height="7.42" fill="#ff0000"/>
<rect x="1063" y="686.20" width="5" height="5.44" fill="#ff0000"/>
<rect x="1070" y="686.20" width="5" height="3.80" fill="#ff0000"/>
<rect x="1076" y="686.20" width="5" height="1.54" fill="#ff0000"/>
<rect x="1089" y="686.20" width="5" height="0.65" fill="#ff0000"/>
<rect x="1095" y="686.20" width="5" height="1.24" fill="#ff0000"/>
<rect x="1102" y="686.20" width="5" height="1.16" fill="#ff0000"/>
<rect x="1108" y="686.20" width="5" height="0.13" fill="#ff0000"/>
<rect x="1115" y="686.07" width="5" height="0.13" fill="#00ff00"/>
<rect x="1121" y="686.20" width="5" height="0.88" fill="#ff0000"/>
<rect x="1127" y="686.20" width="5" height="1.74" fill="#ff0000"/>
<rect x="1134" y="686.20" width="5" height="1.46" fill="#ff0000"/>
<rect x="1140" y="686.20" width="5" height="2.84" fill="#ff0000"/>
<rect x="1147" y="686.20" width="5" height="1.94" fill="#ff0000"/>
<rect x="1153" y="686.20" width="5" height="1.88" fill="#ff0000"/>
<rect x="1160" y="686.20" width="5" height="0.93" fill="#ff0000"/>
<rect x="1166" y="684.90" width="5" height="1.30" fill="#00ff00"/>
<rect x="1172" y="684.31" width="5" height="1.89" fill="#00ff00"/>
<rect x="1179" y="685.68" width="5" height="0.52" fill="#00ff00"/>
<rect x="1185" y="686.20" width="5" height="0.54" fill="#ff0000"/>
<rect x="1192" y="686.20" width="5" height="0.87" fill="#ff0000"/>
<rect x="1198" y="686.20" width="5" height="1.90" fill="#ff0000"/>
<rect x="1204" y="686.20" width="5" height="2.36" fill="#ff0000"/>
<rect x="1211" y="686.20" width="5" height="3.16" fill="#ff0000"/>
<rect x="1217" y="686.20" width="5" height="2.82" fill="#ff0000"/>
<rect x="1224" y="686.20" width="5" height="1.76" fill="#ff0000"/>
<rect x="1230" y="686.20" width="5" height="0.38" fill="#ff0000"/>
<rect x="1237" y="685.52" width="5" height="0.68" fill="#00ff00"/>
<rect x="1243" y="685.54" width="5" height="0.66" fill="#00ff00"/>
<rect x="1249" y="685.50" width="5" height="0.70" fill="#00ff00"/>
<rect x="1256" y="684.71" width="5" height="1.49" fill="#00ff00"/>
<rect x="1262" y="684.44" width="5" height="1.76" fill="#00ff00"/>
<rect x="1269" y="684.32" width="5" height="1.88" fill="#00ff00"/>
<rect x="1275" y="684.82" width="5" height="1.38" fill="#00ff00"/>
<rect x="1288" y="686.20" width="5" height="2.33" fill="#ff0000"/>
<rect x="1294" y="686.20" width="5" height="3.25" fill="#ff0000"/>
<rect x="1301" y="686.20" width="5" height="4.84" fill="#ff0000"/>
<rect x="1307" y="686.20" width="5" height="6.58" fill="#ff0000"/>
<rect x="1314" y="686.20" width="5" height="6.89" fill="#ff0000"/>
<rect x="1320" y="686.20" width="5" height="7.55" fill="#ff0000"/>
<rect x="1326" y="686.20" width="5" height="8.96" fill="#ff0000"/>
<rect x="1333" y="686.20" width="5" height="10.03" fill="#ff0000"/>
<rect x="1339" y="686.20" width="5" height="9.46" fill="#ff0000"/>
<rect x="1346" y="686.20" width="5" height="8.92" fill="#ff0000"/>
<rect x="1352" y="686.20" width="5" height="8.65" fill="#ff0000"/>
<rect x="1359" y="686.20" width="5" height="8.88" fill="#ff0000"/>
<rect x="1365" y="686.20" width="5" height="8.60" fill="#ff0000"/>
<rect x="1371" y="686.20" width="5" height="6.69" fill="#ff0000"/>
<rect x="1378" y="686.20" width="5" height="4.48" fill="#ff0000"/>
<rect x="1384" y="686.20" width="5" height="2.83" fill="#ff0000"/>
<rect x="1391" y="686.20" width="5" height="2.99" fill="#ff0000"/>
<rect x="1397" y="686.20" width="5" height="3.20" fill="#ff0000"/>
<rect x="1404" y="686.20" width="5" height="3.12" fill="#ff0000"/>
<rect x="1410" y="686.20" width="5" height="3.03" fill="#ff0000"/>
<rect x="1416" y="686.20" width="5" height="2.28" fill="#ff0000"/>
<rect x="1423" y="686.20" width="5" height="1.59" fill="#ff0000"/>
<rect x="1429" y="686.20" width="5" height="2.22" fill="#ff0000"/>
<rect x="1436" y="686.20" width="5" height="1.89" fill="#ff0000"/>
<rect x="1442" y="686.20" width="5" height="2.50" fill="#ff0000"/>
<rect x="1448" y="686.20" width="5" height="2.89" fill="#ff0000"/>
<rect x="1455" y="686.20" width="5" height="4.15" fill="#ff0000"/>
<rect x="1461" y="686.20" width="5" height="2.30" fill="#ff0000"/>
<rect x="1468" y="686.20" width="5" height="0.20" fill="#ff0000"/>
<rect x="1474" y="685.32" width="5" height="0.88" fill="#00ff00"/>
<rect x="1481" y="683.73" width="5" height="2.47" fill="#00ff00"/>
<rect x="1487" y="682.24" width="5" height="3.96" fill="#00ff00"/>
<rect x="1493" y="680.24" width="5" height="5.96" fill="#00ff00"/>
<rect x="1500" y="678.58" width="5" height="7.62" fill="#00ff00"/>
<rect x="1506" y="678.14" width="5" height="8.06" fill="#00ff00"/>
<rect x="1513" y="677.86" width="5" height="8.34" fill="#00ff00"/>
<rect x="1519" y="678.51" width="5" height="7.69" fill="#00ff00"/>
<rect x="1525" y="678.36" width="5" height="7.84" fill="#00ff00"/>
<rect x="1532" y="682.33" width="5" height="3.87" fill="#00ff00"/>
<rect x="1538" y="684.15" width="5" height="2.05" fill="#00ff00"/>
<rect x="1545" y="684.99" width="5" height="1.21" fill="#00ff00"/>
<rect x="1551" y="685.97" width="5" height="0.23" fill="#00ff00"/>
<rect x="1558" y="686.20" width="5" height="0.54" fill="#ff0000"/>
<rect x="1564" y="686.20" width="5" height="0.28" fill="#ff0000"/>
<rect x="1570" y="685.24" width="5" height="0.96" fill="#00ff00"/>
<rect x="1577" y="683.49" width="5" height="2.71" fill="#00ff00"/>
<rect x="1583" y="683.30" width="5" height="2.90" fill="#00ff00"/>
<rect x="1590" y="684.82" width="5" height="1.38" fill="#00ff00"/>
<rect x="1596" y="685.48" width="5" height="0.72" fill="#00ff00"/>
<rect x="1603" y="683.66" width="5" height="2.54" fill="#00ff00"/>
<rect x="1609" y="683.35" width="5" height="2.85" fill="#00ff00"/>
<rect x="1615" y="682.88" width="5" height="3.32" fill="#00ff00"/>
<rect x="1622" y="682.65" width="5" height="3.55" fill="#00ff00"/>
<rect x="1628" y="681.97" width="5" height="4.23" fill="#00ff00"/>
<rect x="1635" y="680.73" width="5" height="5.47" fill="#00ff00"/>
<rect x="1641" y="679.99" width="5" height="6.21" fill="#00ff00"/>
<rect x="1647" y="679.84" width="5" height="6.36" fill="#00ff00"/>
<rect x="1654" y="681.28" width="5" height="4.92" fill="#00ff00"/>
<rect x="1660" y="682.41" width="5" height="3.79" fill="#00ff00"/>
<rect x="1667" y="683.04" width="5" height="3.16" fill="#00ff00"/>
<rect x="1673" y="683.09" width="5" height="3.11" fill="#00ff00"/>
<rect x="1680" y="684.08" width="5" height="2.12" fill="#00ff00"/>
<rect x="1686" y="685.16" width="5" height="1.04" fill="#00ff00"/>
<rect x="1692" y="685.83" width="5" height="0.37" fill="#00ff00"/>
<rect x="1699" y="684.87" width="5" height="1.33" fill="#00ff00"/>
<rect x="1705" y="684.83" width="5" height="1.37" fill="#00ff00"/>
<rect x="1712" y="684.88" width="5" height="1.32" fill="#00ff00"/>
<rect x="1718" y="684.30" width="5" height="1.90" fill="#00ff00"/>
<rect x="1725" y="685.47" width="5" height="0.73" fill="#00ff00"/>
<rect x="1731" y="686.01" width="5" height="0.19" fill="#00ff00"/>
<rect x="1737" y="685.48" width="5" height="0.72" fill="#00ff00"/>
<rect x="1744" y="685.40" width="5" height="0.80" fill="#00ff00"/>
<rect x="1750" y="685.94" width="5" height="0.26" fill="#00ff00"/>
<rect x="1757" y="686.20" width="5" height="1.36" fill="#ff0000"/>
<rect x="1763" y="686.20" width="5" height="2.60" fill="#ff0000"/>
<rect x="1769" y="686.20" width="5" height="3.45" fill="#ff0000"/>
<rect x="1776" y="686.20" width="5" height="3.01" fill="#ff0000"/>
<rect x="1782" y="686.20" width="5" height="2.36" fill="#ff0000"/>
<rect x="1789" y="686.20" width="5" height="3.18" fill="#ff0000"/>
<rect x="1795" y="686.20" width="5" height="5.51" fill="#ff0000"/>
<rect x="1802" y="686.20" width="5" height="6.64" fill="#ff0000"/>
<rect x="1808" y="686.20" width="5" height="7.24" fill="#ff0000"/>
<g shape-rendering="crispEdges"><rect x="1" y="752" width="1810" height="1" fill="#fff" fill-opacity="0.85"/><rect x="1" y="795" width="1810" height="1" fill="#fff" fill-opacity="0.85"/></g>
<polyline points="0.5,746.3 6.5,748.3 12.5,749.3 19.5,746.9 25.5,745.6 32.5,744.9 38.5,746.0 44.5,744.9 51.5,744.6 57.5,744.0 64.5,745.3 70.5,744.9 77.5,744.8 83.5,742.5 89.5,741.6 96.5,741.5 102.5,744.3 109.5,748.2 115.5,753.6 122.5,758.9 128.5,764.5 134.5,767.3 141.5,767.8 147.5,768.4 154.5,771.9 160.5,778.7 166.5,783.3 173.5,783.8 179.5,780.1 186.5,774.8 192.5,770.1 199.5,762.8 205.5,754.6 211.5,747.5 218.5,747.6 224.5,753.8 231.5,762.4 237.5,767.6 243.5,769.5 250.5,768.4 256.5,765.3 263.5,760.3 269.5,755.9 276.5,755.9 282.5,761.8 288.5,770.0 295.5,777.3 301.5,779.6 308.5,777.6 314.5,776.1 321.5,776.4 327.5,780.7 333.5,784.3 340.5,789.7 346.5,796.4 353.5,800.5 359.5,800.3 365.5,797.5 372.5,796.7 378.5,798.6 385.5,800.3 391.5,801.0 398.5,800.8 404.5,797.6 410.5,791.3 417.5,781.6 423.5,772.3 430.5,765.8 436.5,763.9 443.5,766.2 449.5,766.6 455.5,765.1 462.5,763.7 468.5,768.1 475.5,772.1 481.5,777.3 487.5,781.4 494.5,790.3 500.5,794.9 507.5,796.6 513.5,794.4 520.5,794.7 526.5,795.5 532.5,798.1 539.5,799.8 545.5,799.8 552.5,796.1 558.5,790.2 564.5,781.3 571.5,771.5 577.5,761.2 584.5,755.9 590.5,755.4 597.5,758.5 603.5,760.4 609.5,757.3 616.5,750.3 622.5,744.2 629.5,743.8 635.5,748.8 642.5,753.7 648.5,755.5 654.5,755.7 661.5,758.8 667.5,766.2 674.5,775.6 680.5,783.9 686.5,789.9 693.5,794.2 699.5,794.6 706.5,792.9 712.5,789.8 719.5,789.9 725.5,788.6 731.5,783.1 738.5,771.5 744.5,760.2 751.5,752.6 757.5,750.3 764.5,748.9 770.5,747.6 776.5,745.0 783.5,743.3 789.5,742.2 796.5,743.0 802.5,743.7 808.5,745.2 815.5,747.8 821.5,754.6 828.5,763.6 834.5,768.8 841.5,765.4 847.5,755.6 853.5,746.0 860.5,743.0 866.5,744.9 873.5,749.8 879.5,751.6 885.5,751.0 892.5,747.1 898.5,744.7 905.5,744.3 911.5,747.5 918.5,750.4 924.5,752.9 930.5,751.9 937.5,750.4 943.5,749.9 950.5,754.1 956.5,764.2 963.5,777.1 969.5,790.6 975.5,797.6 982.5,797.6 988.5,787.6 995.5,773.0 1001.5,760.3 1007.5,755.6 1014.5,761.3 1020.5,770.7 1027.5,780.1 1033.5,785.7 1040.5,788.1 1046.5,790.8 1052.5,794.4 1059.5,798.9 1065.5,798.1 1072.5,791.9 1078.5,782.4 1085.5,774.2 1091.5,768.8 1097.5,767.2 1104.5,767.6 1110.5,766.6 1117.5,763.1 1123.5,760.1 1129.5,762.1 1136.5,766.7 1142.5,772.2 1149.5,774.9 1155.5,779.3 1162.5,780.0 1168.5,776.9 1174.5,768.0 1181.5,763.1 1187.5,767.4 1194.5,778.0 1200.5,787.8 1206.5,792.9 1213.5,797.1 1219.5,799.0 1226.5,797.8 1232.5,790.9 1239.5,782.2 1245.5,775.5 1251.5,773.3 1258.5,773.3 1264.5,771.0 1271.5,765.0 1277.5,759.1 1284.5,759.1 1290.5,768.3 1296.5,781.5 1303.5,794.4 1309.5,801.2 1316.5,804.2 1322.5,804.0 1328.5,803.7 1335.5,804.8 1341.5,806.1 1348.5,806.7 1354.5,805.6 1361.5,805.2 1367.5,805.9 1373.5,805.6 1380.5,802.9 1386.5,798.1 1393.5,795.9 1399.5,796.8 1406.5,800.7 1412.5,803.2 1418.5,803.3 1425.5,801.0 1431.5,798.9 1438.5,798.7 1444.5,801.5 1450.5,804.4 1457.5,806.9 1463.5,805.0 1470.5,800.1 1476.5,792.4 1483.5,785.3 1489.5,778.8 1495.5,770.9 1502.5,762.2 1508.5,754.2 1515.5,750.1 1521.5,750.0 1527.5,750.8 1534.5,757.0 1540.5,765.5 1547.5,779.0 1553.5,786.9 1560.5,792.7 1566.5,794.4 1572.5,794.1 1579.5,788.7 1585.5,781.9 1592.5,779.5 1598.5,784.1 1605.5,788.9 1611.5,789.2 1617.5,783.9 1624.5,778.2 1630.5,770.6 1637.5,761.2 1643.5,751.9 1649.5,746.6 1656.5,748.2 1662.5,753.9 1669.5,761.6 1675.5,765.1 1682.5,766.3 1688.5,767.4 1694.5,772.9 1701.5,776.8 1707.5,777.2 1714.5,772.5 1720.5,768.9 1727.5,768.7 1733.5,771.1 1739.5,773.9 1746.5,771.8 1752.5,768.5 1759.5,770.6 1765.5,780.8 1771.5,794.4 1778.5,800.5 1784.5,798.9 1791.5,795.1 1797.5,795.4 1804.5,800.3 1810.5,804.0" fill="none" stroke="#1436ff" stroke-width="1.05" stroke-linejoin="round" />
<polyline points="0.5,749.8 6.5,749.9 12.5,748.2 19.5,742.5 25.5,746.0 32.5,746.0 38.5,745.9 44.5,742.7 51.5,745.3 57.5,743.9 64.5,746.8 70.5,743.8 77.5,743.7 83.5,740.1 89.5,741.2 96.5,743.2 102.5,748.6 109.5,752.7 115.5,759.6 122.5,764.5 128.5,769.5 134.5,767.9 141.5,766.1 147.5,771.2 154.5,778.4 160.5,786.5 166.5,785.0 173.5,780.1 179.5,775.3 186.5,769.1 192.5,765.8 199.5,753.4 205.5,744.8 211.5,744.2 218.5,753.9 224.5,763.3 231.5,770.1 237.5,769.3 243.5,769.1 250.5,766.9 256.5,759.8 263.5,754.2 269.5,753.6 276.5,760.0 282.5,771.9 288.5,778.1 295.5,782.0 301.5,778.8 308.5,771.9 314.5,777.6 321.5,779.7 327.5,784.7 333.5,788.6 340.5,795.9 346.5,804.7 353.5,800.7 359.5,795.6 365.5,796.2 372.5,798.3 378.5,801.2 385.5,801.3 391.5,800.6 398.5,800.6 404.5,791.6 410.5,781.8 417.5,771.5 423.5,763.5 430.5,762.4 436.5,765.9 443.5,770.2 449.5,763.6 455.5,761.5 462.5,766.0 468.5,776.8 475.5,773.4 481.5,781.5 487.5,789.3 494.5,800.1 500.5,795.3 507.5,794.5 513.5,793.4 520.5,796.2 526.5,796.8 532.5,801.4 539.5,801.2 545.5,796.9 552.5,790.1 558.5,783.6 564.5,770.2 571.5,760.7 577.5,752.8 584.5,754.2 590.5,759.1 597.5,762.0 603.5,759.9 609.5,750.0 616.5,740.9 622.5,741.7 629.5,748.8 635.5,755.9 642.5,756.4 648.5,754.1 654.5,756.5 661.5,765.7 667.5,776.5 674.5,784.7 680.5,790.6 686.5,794.4 693.5,797.6 699.5,791.9 706.5,789.3 712.5,788.2 719.5,792.1 725.5,785.5 731.5,771.6 738.5,757.2 744.5,751.7 751.5,748.9 757.5,750.4 764.5,747.3 770.5,745.2 776.5,742.5 783.5,742.2 789.5,742.0 796.5,744.8 802.5,744.4 808.5,746.4 815.5,752.5 821.5,764.8 828.5,773.4 834.5,768.3 841.5,754.6 847.5,743.8 853.5,739.4 860.5,745.8 866.5,749.5 873.5,754.0 879.5,751.2 885.5,747.8 892.5,742.4 898.5,743.8 905.5,746.6 911.5,752.0 918.5,752.7 924.5,753.9 930.5,749.2 937.5,748.2 943.5,752.2 950.5,761.9 956.5,778.5 963.5,791.0 969.5,802.5 975.5,799.5 982.5,790.7 988.5,772.7 995.5,755.6 1001.5,752.6 1007.5,758.6 1014.5,772.7 1020.5,780.9 1027.5,786.7 1033.5,789.6 1040.5,788.1 1046.5,794.8 1052.5,800.4 1059.5,801.4 1065.5,792.4 1072.5,781.8 1078.5,773.0 1085.5,767.8 1091.5,765.7 1097.5,768.1 1104.5,769.0 1110.5,762.7 1117.5,757.6 1123.5,760.1 1129.5,768.5 1136.5,771.4 1142.5,776.7 1149.5,776.7 1155.5,784.5 1162.5,778.7 1168.5,767.5 1174.5,757.8 1181.5,764.0 1187.5,780.5 1194.5,789.4 1200.5,793.4 1206.5,796.0 1213.5,802.0 1219.5,798.9 1226.5,792.5 1232.5,781.2 1239.5,773.0 1245.5,772.3 1251.5,774.5 1258.5,773.2 1264.5,765.2 1271.5,756.5 1277.5,755.6 1284.5,765.2 1290.5,784.1 1296.5,795.2 1303.5,804.1 1309.5,804.2 1316.5,804.5 1322.5,803.2 1328.5,803.4 1335.5,807.9 1341.5,807.0 1348.5,805.2 1354.5,804.6 1361.5,806.0 1367.5,807.2 1373.5,803.5 1380.5,797.9 1386.5,792.9 1393.5,796.8 1399.5,800.7 1406.5,804.8 1412.5,804.1 1418.5,801.1 1425.5,797.7 1431.5,797.9 1438.5,800.6 1444.5,806.0 1450.5,806.5 1457.5,808.1 1463.5,800.3 1470.5,792.0 1476.5,784.8 1483.5,779.1 1489.5,772.7 1495.5,761.0 1502.5,752.8 1508.5,748.8 1515.5,748.7 1521.5,752.5 1527.5,751.1 1534.5,767.4 1540.5,778.1 1547.5,791.5 1553.5,791.3 1560.5,795.4 1566.5,796.4 1572.5,790.4 1579.5,779.3 1585.5,775.9 1592.5,783.2 1598.5,793.2 1605.5,790.3 1611.5,784.1 1617.5,777.5 1624.5,773.2 1630.5,761.2 1637.5,749.3 1643.5,745.1 1649.5,745.4 1656.5,754.2 1662.5,762.1 1669.5,768.4 1675.5,764.8 1682.5,765.6 1688.5,771.7 1694.5,781.5 1701.5,777.3 1707.5,772.8 1714.5,767.3 1720.5,766.6 1727.5,772.2 1733.5,774.7 1739.5,774.8 1746.5,766.0 1752.5,764.8 1759.5,781.1 1765.5,796.4 1771.5,805.7 1778.5,799.3 1784.5,791.7 1791.5,794.2 1797.5,800.3 1804.5,806.5 1810.5,805.2" fill="none" stroke="#ff1a1a" stroke-width="1.05" stroke-linejoin="round" />
<g shape-rendering="crispEdges">
<rect x="1" y="773" width="1847" height="1" fill="#4a4a4a"/>
</g>
<g shape-rendering="crispEdges"><rect x="0" y="736" width="1810" height="16" fill="#00ff00" fill-opacity="0.5"/>
<rect x="0" y="736" width="1" height="16" fill="#000"/><rect x="1810" y="736" width="1" height="16" fill="#003a00"/>
<rect x="0" y="751" width="1811" height="1" fill="#003a00"/></g>
<g shape-rendering="crispEdges"><rect x="0" y="796" width="1810" height="16" fill="#ff0000" fill-opacity="0.5"/>
<rect x="0" y="796" width="1" height="16" fill="#000"/><rect x="1810" y="796" width="1" height="16" fill="#3a0000"/>
<rect x="0" y="796" width="1811" height="1" fill="#3a0000"/></g>
<rect x="1849" y="772.85" width="5" height="1" fill="#8c8c8c"/>
<text x="1856" y="778" font-size="11" fill="#555">50.0000</text>
<rect x="1849" y="810.40" width="5" height="1" fill="#8c8c8c"/>
<text x="1856" y="815" font-size="11" fill="#555">0.0000</text>
<g shape-rendering="crispEdges">
<rect x="914" y="535" width="20" height="1" fill="#6f6a66"/>
<rect x="914" y="537" width="20" height="1" fill="#6f6a66"/>
<rect x="914" y="539" width="20" height="1" fill="#6f6a66"/>
<rect x="914" y="641" width="20" height="1" fill="#6f6a66"/>
<rect x="914" y="643" width="20" height="1" fill="#6f6a66"/>
<rect x="914" y="645" width="20" height="1" fill="#6f6a66"/>
<rect x="914" y="728" width="20" height="1" fill="#6f6a66"/>
<rect x="914" y="730" width="20" height="1" fill="#6f6a66"/>
<rect x="914" y="732" width="20" height="1" fill="#6f6a66"/>
</g>
<g><rect x="5" y="5" width="79" height="21" fill="#000" fill-opacity="0.6" shape-rendering="crispEdges"/><rect x="5" y="5" width="2" height="21" fill="#2e8b74" shape-rendering="crispEdges"/>
<text x="16" y="20" font-size="11" font-weight="bold" fill="#fff">EUR/USD</text></g>
<g><rect x="5" y="32" width="84" height="21" fill="#000" fill-opacity="0.6" shape-rendering="crispEdges"/><rect x="5" y="32" width="2" height="21" fill="#ff0000" shape-rendering="crispEdges"/>
<text x="16" y="46" font-size="11" font-weight="bold" fill="#fff">SMA (50,0)</text></g>
<g><rect x="5" y="59" width="90" height="21" fill="#000" fill-opacity="0.6" shape-rendering="crispEdges"/><rect x="5" y="59" width="2" height="21" fill="#0040c0" shape-rendering="crispEdges"/>
<text x="16" y="73" font-size="11" font-weight="bold" fill="#fff">SMA (100,0)</text></g>
<g><rect x="5" y="86" width="90" height="21" fill="#000" fill-opacity="0.6" shape-rendering="crispEdges"/><rect x="5" y="86" width="2" height="21" fill="#ff00ff" shape-rendering="crispEdges"/>
<text x="16" y="100" font-size="11" font-weight="bold" fill="#fff">SMA (200,0)</text></g>
<g><rect x="5" y="546" width="110" height="21" fill="#000" fill-opacity="0.6" shape-rendering="crispEdges"/><rect x="5" y="546" width="2" height="21" fill="#0000ff" shape-rendering="crispEdges"/>
<text x="16" y="561" font-size="11" font-weight="bold" fill="#fff">RSI (14,70,30,1)</text></g>
<g><rect x="5" y="652" width="109" height="21" fill="#000" fill-opacity="0.6" shape-rendering="crispEdges"/><rect x="5" y="652" width="2" height="21" fill="#0000ff" shape-rendering="crispEdges"/>
<text x="16" y="667" font-size="11" font-weight="bold" fill="#fff">MACD (12,26,9)</text></g>
<g><rect x="5" y="739" width="138" height="21" fill="#000" fill-opacity="0.6" shape-rendering="crispEdges"/><rect x="5" y="739" width="2" height="21" fill="#ff0000" shape-rendering="crispEdges"/>
<text x="16" y="754" font-size="11" font-weight="bold" fill="#fff">FUSTO (14,3,3,80,20)</text></g>
<rect x="1" y="14" width="84" height="1" fill="#8c8c8c" shape-rendering="crispEdges"/>
<g shape-rendering="crispEdges">
<rect x="0" y="813" width="1" height="2" fill="#555"/>
<rect x="38" y="813" width="1" height="2" fill="#555"/>
<rect x="83" y="813" width="1" height="2" fill="#555"/>
<rect x="115" y="813" width="1" height="2" fill="#555"/>
<rect x="147" y="813" width="1" height="2" fill="#555"/>
<rect x="179" y="813" width="1" height="2" fill="#555"/>
<rect x="231" y="813" width="1" height="2" fill="#555"/>
<rect x="263" y="813" width="1" height="2" fill="#555"/>
<rect x="295" y="813" width="1" height="2" fill="#555"/>
<rect x="327" y="813" width="1" height="2" fill="#555"/>
<rect x="365" y="813" width="1" height="2" fill="#555"/>
<rect x="398" y="813" width="1" height="2" fill="#555"/>
<rect x="430" y="813" width="1" height="2" fill="#555"/>
<rect x="462" y="813" width="1" height="2" fill="#555"/>
<rect x="507" y="813" width="1" height="2" fill="#555"/>
<rect x="539" y="813" width="1" height="2" fill="#555"/>
<rect x="571" y="813" width="1" height="2" fill="#555"/>
<rect x="603" y="813" width="1" height="2" fill="#555"/>
<rect x="648" y="813" width="1" height="2" fill="#555"/>
<rect x="680" y="813" width="1" height="2" fill="#555"/>
<rect x="712" y="813" width="1" height="2" fill="#555"/>
<rect x="744" y="813" width="1" height="2" fill="#555"/>
<rect x="783" y="813" width="1" height="2" fill="#555"/>
<rect x="815" y="813" width="1" height="2" fill="#555"/>
<rect x="847" y="813" width="1" height="2" fill="#555"/>
<rect x="879" y="813" width="1" height="2" fill="#555"/>
<rect x="930" y="813" width="1" height="2" fill="#555"/>
<rect x="963" y="813" width="1" height="2" fill="#555"/>
<rect x="995" y="813" width="1" height="2" fill="#555"/>
<rect x="1027" y="813" width="1" height="2" fill="#555"/>
<rect x="1059" y="813" width="1" height="2" fill="#555"/>
<rect x="1091" y="813" width="1" height="2" fill="#555"/>
<rect x="1123" y="813" width="1" height="2" fill="#555"/>
<rect x="1155" y="813" width="1" height="2" fill="#555"/>
<rect x="1200" y="813" width="1" height="2" fill="#555"/>
<rect x="1232" y="813" width="1" height="2" fill="#555"/>
<rect x="1264" y="813" width="1" height="2" fill="#555"/>
<rect x="1296" y="813" width="1" height="2" fill="#555"/>
<rect x="1328" y="813" width="1" height="2" fill="#555"/>
<rect x="1361" y="813" width="1" height="2" fill="#555"/>
<rect x="1393" y="813" width="1" height="2" fill="#555"/>
<rect x="1425" y="813" width="1" height="2" fill="#555"/>
<rect x="1457" y="813" width="1" height="2" fill="#555"/>
<rect x="1476" y="813" width="1" height="2" fill="#555"/>
<rect x="1508" y="813" width="1" height="2" fill="#555"/>
<rect x="1540" y="813" width="1" height="2" fill="#555"/>
<rect x="1572" y="813" width="1" height="2" fill="#555"/>
<rect x="1611" y="813" width="1" height="2" fill="#555"/>
<rect x="1643" y="813" width="1" height="2" fill="#555"/>
<rect x="1675" y="813" width="1" height="2" fill="#555"/>
<rect x="1707" y="813" width="1" height="2" fill="#555"/>
<rect x="1752" y="813" width="1" height="2" fill="#555"/>
<rect x="1771" y="813" width="1" height="2" fill="#555"/>
<rect x="1791" y="813" width="1" height="2" fill="#555"/>
<rect x="1810" y="813" width="1" height="2" fill="#555"/>
</g>
<text x="0" y="829" font-size="11" fill="#5a5a5a">Jul</text>
<text x="38.5" y="829" font-size="11" fill="#5a5a5a" text-anchor="middle">21</text>
<text x="83.5" y="829" font-size="11" fill="#5a5a5a" text-anchor="middle">Aug</text>
<text x="115.5" y="829" font-size="11" fill="#5a5a5a" text-anchor="middle">8</text>
<text x="147.5" y="829" font-size="11" fill="#5a5a5a" text-anchor="middle">15</text>
<text x="179.5" y="829" font-size="11" fill="#5a5a5a" text-anchor="middle">22</text>
<text x="231.5" y="829" font-size="11" fill="#5a5a5a" text-anchor="middle">Sep</text>
<text x="263.5" y="829" font-size="11" fill="#5a5a5a" text-anchor="middle">8</text>
<text x="295.5" y="829" font-size="11" fill="#5a5a5a" text-anchor="middle">15</text>
<text x="327.5" y="829" font-size="11" fill="#5a5a5a" text-anchor="middle">22</text>
<text x="365.5" y="829" font-size="11" fill="#5a5a5a" text-anchor="middle">Oct</text>
<text x="398.5" y="829" font-size="11" fill="#5a5a5a" text-anchor="middle">9</text>
<text x="430.5" y="829" font-size="11" fill="#5a5a5a" text-anchor="middle">16</text>
<text x="462.5" y="829" font-size="11" fill="#5a5a5a" text-anchor="middle">23</text>
<text x="507.5" y="829" font-size="11" fill="#5a5a5a" text-anchor="middle">Nov</text>
<text x="539.5" y="829" font-size="11" fill="#5a5a5a" text-anchor="middle">8</text>
<text x="571.5" y="829" font-size="11" fill="#5a5a5a" text-anchor="middle">15</text>
<text x="603.5" y="829" font-size="11" fill="#5a5a5a" text-anchor="middle">22</text>
<text x="648.5" y="829" font-size="11" fill="#5a5a5a" text-anchor="middle">Dec</text>
<text x="680.5" y="829" font-size="11" fill="#5a5a5a" text-anchor="middle">8</text>
<text x="712.5" y="829" font-size="11" fill="#5a5a5a" text-anchor="middle">15</text>
<text x="744.5" y="829" font-size="11" fill="#5a5a5a" text-anchor="middle">22</text>
<text x="783.5" y="829" font-size="11" fill="#5a5a5a" text-anchor="middle">'18</text>
<text x="815.5" y="829" font-size="11" fill="#5a5a5a" text-anchor="middle">8</text>
<text x="847.5" y="829" font-size="11" fill="#5a5a5a" text-anchor="middle">15</text>
<text x="879.5" y="829" font-size="11" fill="#5a5a5a" text-anchor="middle">22</text>
<text x="930.5" y="829" font-size="11" fill="#5a5a5a" text-anchor="middle">Feb</text>
<text x="963.5" y="829" font-size="11" fill="#5a5a5a" text-anchor="middle">8</text>
<text x="995.5" y="829" font-size="11" fill="#5a5a5a" text-anchor="middle">15</text>
<text x="1027.5" y="829" font-size="11" fill="#5a5a5a" text-anchor="middle">22</text>
<text x="1059.5" y="829" font-size="11" fill="#5a5a5a" text-anchor="middle">Mar</text>
<text x="1091.5" y="829" font-size="11" fill="#5a5a5a" text-anchor="middle">8</text>
<text x="1123.5" y="829" font-size="11" fill="#5a5a5a" text-anchor="middle">15</text>
<text x="1155.5" y="829" font-size="11" fill="#5a5a5a" text-anchor="middle">22</text>
<text x="1200.5" y="829" font-size="11" fill="#5a5a5a" text-anchor="middle">Apr</text>
<text x="1232.5" y="829" font-size="11" fill="#5a5a5a" text-anchor="middle">10</text>
<text x="1264.5" y="829" font-size="11" fill="#5a5a5a" text-anchor="middle">17</text>
<text x="1296.5" y="829" font-size="11" fill="#5a5a5a" text-anchor="middle">24</text>
<text x="1328.5" y="829" font-size="11" fill="#5a5a5a" text-anchor="middle">May</text>
<text x="1361.5" y="829" font-size="11" fill="#5a5a5a" text-anchor="middle">8</text>
<text x="1393.5" y="829" font-size="11" fill="#5a5a5a" text-anchor="middle">15</text>
<text x="1425.5" y="829" font-size="11" fill="#5a5a5a" text-anchor="middle">22</text>
<text x="1457.5" y="829" font-size="11" fill="#5a5a5a" text-anchor="middle">29</text>
<text x="1476.5" y="829" font-size="11" fill="#5a5a5a" text-anchor="middle">Jun</text>
<text x="1508.5" y="829" font-size="11" fill="#5a5a5a" text-anchor="middle">8</text>
<text x="1540.5" y="829" font-size="11" fill="#5a5a5a" text-anchor="middle">15</text>
<text x="1572.5" y="829" font-size="11" fill="#5a5a5a" text-anchor="middle">22</text>
<text x="1611.5" y="829" font-size="11" fill="#5a5a5a" text-anchor="middle">Jul</text>
<text x="1643.5" y="829" font-size="11" fill="#5a5a5a" text-anchor="middle">9</text>
<text x="1675.5" y="829" font-size="11" fill="#5a5a5a" text-anchor="middle">16</text>
<text x="1707.5" y="829" font-size="11" fill="#5a5a5a" text-anchor="middle">23</text>
<text x="1752.5" y="829" font-size="11" fill="#5a5a5a" text-anchor="middle">Aug</text>
<text x="1771.5" y="829" font-size="11" fill="#5a5a5a" text-anchor="middle">6</text>
<text x="1791.5" y="829" font-size="11" fill="#5a5a5a" text-anchor="middle">9</text>
<text x="1810.5" y="829" font-size="11" fill="#5a5a5a" text-anchor="middle">14</text>
</svg></body></html>
